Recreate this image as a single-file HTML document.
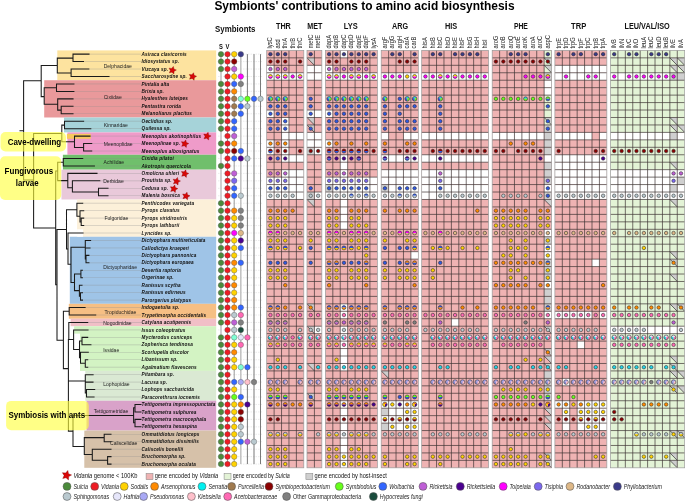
<!DOCTYPE html><html><head><meta charset="utf-8"><style>html,body{margin:0;padding:0;background:#fff;}svg{display:block;will-change:transform}text{font-family:"Liberation Sans",sans-serif}</style></head><body>
<svg width="685" height="501" viewBox="0 0 685 501">
<rect width="685" height="501" fill="#fff"/>
<text x="214.40" y="9.90" font-size="13.3" font-weight="bold" fill="#000" textLength="300.20" lengthAdjust="spacingAndGlyphs">Symbionts' contributions to amino acid biosynthesis</text>
<rect x="57.3" y="50.40" width="158.90" height="29.82" fill="#fde39f"/>
<rect x="44.2" y="80.22" width="172.00" height="37.27" fill="#e9999b"/>
<rect x="64.0" y="117.49" width="152.20" height="14.91" fill="#a6d3d9"/>
<rect x="67.4" y="132.39" width="148.80" height="22.36" fill="#ef9bc9"/>
<rect x="62.9" y="154.76" width="153.30" height="14.91" fill="#70bf6c"/>
<rect x="61.5" y="169.66" width="154.70" height="29.82" fill="#e9c9da"/>
<rect x="77.1" y="199.48" width="139.10" height="37.27" fill="#fcf0d9"/>
<rect x="69.8" y="236.75" width="146.40" height="67.09" fill="#9fc4e7"/>
<rect x="68.8" y="303.84" width="147.40" height="14.91" fill="#f6bf84"/>
<rect x="70.6" y="318.74" width="145.60" height="7.45" fill="#f1bfc7"/>
<rect x="80.0" y="326.20" width="136.20" height="44.72" fill="#d3f3c3"/>
<rect x="85.3" y="370.92" width="130.90" height="29.82" fill="#dae9d3"/>
<rect x="86.5" y="400.74" width="129.70" height="29.82" fill="#d9a2c9"/>
<rect x="84.3" y="430.55" width="131.90" height="37.27" fill="#d6c1a9"/>
<rect x="74.1" y="326.20" width="6" height="7.45" fill="#d3f3c3"/>
<rect x="77.1" y="229.30" width="6" height="7.45" fill="#fff"/>
<line x1="89" y1="54.13" x2="141" y2="54.13" stroke="#8a8a8a" stroke-width="0.45" opacity="0.7"/>
<line x1="218" y1="54.13" x2="263" y2="54.13" stroke="#cccccc" stroke-width="0.4" stroke-dasharray="1.5,1"/>
<line x1="83.5" y1="61.58" x2="141" y2="61.58" stroke="#8a8a8a" stroke-width="0.45" opacity="0.7"/>
<line x1="218" y1="61.58" x2="263" y2="61.58" stroke="#cccccc" stroke-width="0.4" stroke-dasharray="1.5,1"/>
<line x1="88.8" y1="69.03" x2="141" y2="69.03" stroke="#8a8a8a" stroke-width="0.45" opacity="0.7"/>
<line x1="218" y1="69.03" x2="263" y2="69.03" stroke="#cccccc" stroke-width="0.4" stroke-dasharray="1.5,1"/>
<line x1="109" y1="76.49" x2="141" y2="76.49" stroke="#8a8a8a" stroke-width="0.45" opacity="0.7"/>
<line x1="218" y1="76.49" x2="263" y2="76.49" stroke="#cccccc" stroke-width="0.4" stroke-dasharray="1.5,1"/>
<line x1="73.9" y1="83.94" x2="141" y2="83.94" stroke="#8a8a8a" stroke-width="0.45" opacity="0.7"/>
<line x1="218" y1="83.94" x2="263" y2="83.94" stroke="#cccccc" stroke-width="0.4" stroke-dasharray="1.5,1"/>
<line x1="73.9" y1="91.40" x2="141" y2="91.40" stroke="#8a8a8a" stroke-width="0.45" opacity="0.7"/>
<line x1="218" y1="91.40" x2="263" y2="91.40" stroke="#cccccc" stroke-width="0.4" stroke-dasharray="1.5,1"/>
<line x1="73" y1="98.85" x2="141" y2="98.85" stroke="#8a8a8a" stroke-width="0.45" opacity="0.7"/>
<line x1="218" y1="98.85" x2="263" y2="98.85" stroke="#cccccc" stroke-width="0.4" stroke-dasharray="1.5,1"/>
<line x1="73" y1="106.31" x2="141" y2="106.31" stroke="#8a8a8a" stroke-width="0.45" opacity="0.7"/>
<line x1="218" y1="106.31" x2="263" y2="106.31" stroke="#cccccc" stroke-width="0.4" stroke-dasharray="1.5,1"/>
<line x1="73" y1="113.76" x2="141" y2="113.76" stroke="#8a8a8a" stroke-width="0.45" opacity="0.7"/>
<line x1="218" y1="113.76" x2="263" y2="113.76" stroke="#cccccc" stroke-width="0.4" stroke-dasharray="1.5,1"/>
<line x1="83.6" y1="121.21" x2="141" y2="121.21" stroke="#8a8a8a" stroke-width="0.45" opacity="0.7"/>
<line x1="218" y1="121.21" x2="263" y2="121.21" stroke="#cccccc" stroke-width="0.4" stroke-dasharray="1.5,1"/>
<line x1="90.8" y1="128.67" x2="141" y2="128.67" stroke="#8a8a8a" stroke-width="0.45" opacity="0.7"/>
<line x1="218" y1="128.67" x2="263" y2="128.67" stroke="#cccccc" stroke-width="0.4" stroke-dasharray="1.5,1"/>
<line x1="90" y1="136.12" x2="141" y2="136.12" stroke="#8a8a8a" stroke-width="0.45" opacity="0.7"/>
<line x1="218" y1="136.12" x2="263" y2="136.12" stroke="#cccccc" stroke-width="0.4" stroke-dasharray="1.5,1"/>
<line x1="91.7" y1="143.57" x2="141" y2="143.57" stroke="#8a8a8a" stroke-width="0.45" opacity="0.7"/>
<line x1="218" y1="143.57" x2="263" y2="143.57" stroke="#cccccc" stroke-width="0.4" stroke-dasharray="1.5,1"/>
<line x1="91.7" y1="151.03" x2="141" y2="151.03" stroke="#8a8a8a" stroke-width="0.45" opacity="0.7"/>
<line x1="218" y1="151.03" x2="263" y2="151.03" stroke="#cccccc" stroke-width="0.4" stroke-dasharray="1.5,1"/>
<line x1="82.7" y1="158.48" x2="141" y2="158.48" stroke="#8a8a8a" stroke-width="0.45" opacity="0.7"/>
<line x1="218" y1="158.48" x2="263" y2="158.48" stroke="#cccccc" stroke-width="0.4" stroke-dasharray="1.5,1"/>
<line x1="94.4" y1="165.94" x2="141" y2="165.94" stroke="#8a8a8a" stroke-width="0.45" opacity="0.7"/>
<line x1="218" y1="165.94" x2="263" y2="165.94" stroke="#cccccc" stroke-width="0.4" stroke-dasharray="1.5,1"/>
<line x1="97" y1="173.39" x2="141" y2="173.39" stroke="#8a8a8a" stroke-width="0.45" opacity="0.7"/>
<line x1="218" y1="173.39" x2="263" y2="173.39" stroke="#cccccc" stroke-width="0.4" stroke-dasharray="1.5,1"/>
<line x1="99.8" y1="180.84" x2="141" y2="180.84" stroke="#8a8a8a" stroke-width="0.45" opacity="0.7"/>
<line x1="218" y1="180.84" x2="263" y2="180.84" stroke="#cccccc" stroke-width="0.4" stroke-dasharray="1.5,1"/>
<line x1="108" y1="188.30" x2="141" y2="188.30" stroke="#8a8a8a" stroke-width="0.45" opacity="0.7"/>
<line x1="218" y1="188.30" x2="263" y2="188.30" stroke="#cccccc" stroke-width="0.4" stroke-dasharray="1.5,1"/>
<line x1="108" y1="195.75" x2="141" y2="195.75" stroke="#8a8a8a" stroke-width="0.45" opacity="0.7"/>
<line x1="218" y1="195.75" x2="263" y2="195.75" stroke="#cccccc" stroke-width="0.4" stroke-dasharray="1.5,1"/>
<line x1="82.7" y1="203.21" x2="141" y2="203.21" stroke="#8a8a8a" stroke-width="0.45" opacity="0.7"/>
<line x1="218" y1="203.21" x2="263" y2="203.21" stroke="#cccccc" stroke-width="0.4" stroke-dasharray="1.5,1"/>
<line x1="83.7" y1="210.66" x2="141" y2="210.66" stroke="#8a8a8a" stroke-width="0.45" opacity="0.7"/>
<line x1="218" y1="210.66" x2="263" y2="210.66" stroke="#cccccc" stroke-width="0.4" stroke-dasharray="1.5,1"/>
<line x1="83.7" y1="218.12" x2="141" y2="218.12" stroke="#8a8a8a" stroke-width="0.45" opacity="0.7"/>
<line x1="218" y1="218.12" x2="263" y2="218.12" stroke="#cccccc" stroke-width="0.4" stroke-dasharray="1.5,1"/>
<line x1="83.7" y1="225.57" x2="141" y2="225.57" stroke="#8a8a8a" stroke-width="0.45" opacity="0.7"/>
<line x1="218" y1="225.57" x2="263" y2="225.57" stroke="#cccccc" stroke-width="0.4" stroke-dasharray="1.5,1"/>
<line x1="83" y1="233.02" x2="141" y2="233.02" stroke="#8a8a8a" stroke-width="0.45" opacity="0.7"/>
<line x1="218" y1="233.02" x2="263" y2="233.02" stroke="#cccccc" stroke-width="0.4" stroke-dasharray="1.5,1"/>
<line x1="90.6" y1="240.48" x2="141" y2="240.48" stroke="#8a8a8a" stroke-width="0.45" opacity="0.7"/>
<line x1="218" y1="240.48" x2="263" y2="240.48" stroke="#cccccc" stroke-width="0.4" stroke-dasharray="1.5,1"/>
<line x1="90" y1="247.93" x2="141" y2="247.93" stroke="#8a8a8a" stroke-width="0.45" opacity="0.7"/>
<line x1="218" y1="247.93" x2="263" y2="247.93" stroke="#cccccc" stroke-width="0.4" stroke-dasharray="1.5,1"/>
<line x1="88.9" y1="255.38" x2="141" y2="255.38" stroke="#8a8a8a" stroke-width="0.45" opacity="0.7"/>
<line x1="218" y1="255.38" x2="263" y2="255.38" stroke="#cccccc" stroke-width="0.4" stroke-dasharray="1.5,1"/>
<line x1="88.9" y1="262.84" x2="141" y2="262.84" stroke="#8a8a8a" stroke-width="0.45" opacity="0.7"/>
<line x1="218" y1="262.84" x2="263" y2="262.84" stroke="#cccccc" stroke-width="0.4" stroke-dasharray="1.5,1"/>
<line x1="82.4" y1="270.29" x2="141" y2="270.29" stroke="#8a8a8a" stroke-width="0.45" opacity="0.7"/>
<line x1="218" y1="270.29" x2="263" y2="270.29" stroke="#cccccc" stroke-width="0.4" stroke-dasharray="1.5,1"/>
<line x1="82.4" y1="277.75" x2="141" y2="277.75" stroke="#8a8a8a" stroke-width="0.45" opacity="0.7"/>
<line x1="218" y1="277.75" x2="263" y2="277.75" stroke="#cccccc" stroke-width="0.4" stroke-dasharray="1.5,1"/>
<line x1="82" y1="285.20" x2="141" y2="285.20" stroke="#8a8a8a" stroke-width="0.45" opacity="0.7"/>
<line x1="218" y1="285.20" x2="263" y2="285.20" stroke="#cccccc" stroke-width="0.4" stroke-dasharray="1.5,1"/>
<line x1="82.5" y1="292.65" x2="141" y2="292.65" stroke="#8a8a8a" stroke-width="0.45" opacity="0.7"/>
<line x1="218" y1="292.65" x2="263" y2="292.65" stroke="#cccccc" stroke-width="0.4" stroke-dasharray="1.5,1"/>
<line x1="82.5" y1="300.11" x2="141" y2="300.11" stroke="#8a8a8a" stroke-width="0.45" opacity="0.7"/>
<line x1="218" y1="300.11" x2="263" y2="300.11" stroke="#cccccc" stroke-width="0.4" stroke-dasharray="1.5,1"/>
<line x1="85.1" y1="307.56" x2="141" y2="307.56" stroke="#8a8a8a" stroke-width="0.45" opacity="0.7"/>
<line x1="218" y1="307.56" x2="263" y2="307.56" stroke="#cccccc" stroke-width="0.4" stroke-dasharray="1.5,1"/>
<line x1="95.7" y1="315.02" x2="141" y2="315.02" stroke="#8a8a8a" stroke-width="0.45" opacity="0.7"/>
<line x1="218" y1="315.02" x2="263" y2="315.02" stroke="#cccccc" stroke-width="0.4" stroke-dasharray="1.5,1"/>
<line x1="87.7" y1="322.47" x2="141" y2="322.47" stroke="#8a8a8a" stroke-width="0.45" opacity="0.7"/>
<line x1="218" y1="322.47" x2="263" y2="322.47" stroke="#cccccc" stroke-width="0.4" stroke-dasharray="1.5,1"/>
<line x1="88" y1="329.92" x2="141" y2="329.92" stroke="#8a8a8a" stroke-width="0.45" opacity="0.7"/>
<line x1="218" y1="329.92" x2="263" y2="329.92" stroke="#cccccc" stroke-width="0.4" stroke-dasharray="1.5,1"/>
<line x1="87.7" y1="337.38" x2="141" y2="337.38" stroke="#8a8a8a" stroke-width="0.45" opacity="0.7"/>
<line x1="218" y1="337.38" x2="263" y2="337.38" stroke="#cccccc" stroke-width="0.4" stroke-dasharray="1.5,1"/>
<line x1="90.9" y1="344.83" x2="141" y2="344.83" stroke="#8a8a8a" stroke-width="0.45" opacity="0.7"/>
<line x1="218" y1="344.83" x2="263" y2="344.83" stroke="#cccccc" stroke-width="0.4" stroke-dasharray="1.5,1"/>
<line x1="88.3" y1="352.29" x2="141" y2="352.29" stroke="#8a8a8a" stroke-width="0.45" opacity="0.7"/>
<line x1="218" y1="352.29" x2="263" y2="352.29" stroke="#cccccc" stroke-width="0.4" stroke-dasharray="1.5,1"/>
<line x1="87.7" y1="359.74" x2="141" y2="359.74" stroke="#8a8a8a" stroke-width="0.45" opacity="0.7"/>
<line x1="218" y1="359.74" x2="263" y2="359.74" stroke="#cccccc" stroke-width="0.4" stroke-dasharray="1.5,1"/>
<line x1="87.7" y1="367.19" x2="141" y2="367.19" stroke="#8a8a8a" stroke-width="0.45" opacity="0.7"/>
<line x1="218" y1="367.19" x2="263" y2="367.19" stroke="#cccccc" stroke-width="0.4" stroke-dasharray="1.5,1"/>
<line x1="93.1" y1="374.65" x2="141" y2="374.65" stroke="#8a8a8a" stroke-width="0.45" opacity="0.7"/>
<line x1="218" y1="374.65" x2="263" y2="374.65" stroke="#cccccc" stroke-width="0.4" stroke-dasharray="1.5,1"/>
<line x1="93" y1="382.10" x2="141" y2="382.10" stroke="#8a8a8a" stroke-width="0.45" opacity="0.7"/>
<line x1="218" y1="382.10" x2="263" y2="382.10" stroke="#cccccc" stroke-width="0.4" stroke-dasharray="1.5,1"/>
<line x1="94.7" y1="389.56" x2="141" y2="389.56" stroke="#8a8a8a" stroke-width="0.45" opacity="0.7"/>
<line x1="218" y1="389.56" x2="263" y2="389.56" stroke="#cccccc" stroke-width="0.4" stroke-dasharray="1.5,1"/>
<line x1="94" y1="397.01" x2="141" y2="397.01" stroke="#8a8a8a" stroke-width="0.45" opacity="0.7"/>
<line x1="218" y1="397.01" x2="263" y2="397.01" stroke="#cccccc" stroke-width="0.4" stroke-dasharray="1.5,1"/>
<line x1="140" y1="404.46" x2="141" y2="404.46" stroke="#8a8a8a" stroke-width="0.45" opacity="0.7"/>
<line x1="218" y1="404.46" x2="263" y2="404.46" stroke="#cccccc" stroke-width="0.4" stroke-dasharray="1.5,1"/>
<line x1="140" y1="411.92" x2="141" y2="411.92" stroke="#8a8a8a" stroke-width="0.45" opacity="0.7"/>
<line x1="218" y1="411.92" x2="263" y2="411.92" stroke="#cccccc" stroke-width="0.4" stroke-dasharray="1.5,1"/>
<line x1="140" y1="419.37" x2="141" y2="419.37" stroke="#8a8a8a" stroke-width="0.45" opacity="0.7"/>
<line x1="218" y1="419.37" x2="263" y2="419.37" stroke="#cccccc" stroke-width="0.4" stroke-dasharray="1.5,1"/>
<line x1="140" y1="426.83" x2="141" y2="426.83" stroke="#8a8a8a" stroke-width="0.45" opacity="0.7"/>
<line x1="218" y1="426.83" x2="263" y2="426.83" stroke="#cccccc" stroke-width="0.4" stroke-dasharray="1.5,1"/>
<line x1="110" y1="434.28" x2="141" y2="434.28" stroke="#8a8a8a" stroke-width="0.45" opacity="0.7"/>
<line x1="218" y1="434.28" x2="263" y2="434.28" stroke="#cccccc" stroke-width="0.4" stroke-dasharray="1.5,1"/>
<line x1="110" y1="441.73" x2="141" y2="441.73" stroke="#8a8a8a" stroke-width="0.45" opacity="0.7"/>
<line x1="218" y1="441.73" x2="263" y2="441.73" stroke="#cccccc" stroke-width="0.4" stroke-dasharray="1.5,1"/>
<line x1="110" y1="449.19" x2="141" y2="449.19" stroke="#8a8a8a" stroke-width="0.45" opacity="0.7"/>
<line x1="218" y1="449.19" x2="263" y2="449.19" stroke="#cccccc" stroke-width="0.4" stroke-dasharray="1.5,1"/>
<line x1="110" y1="456.64" x2="141" y2="456.64" stroke="#8a8a8a" stroke-width="0.45" opacity="0.7"/>
<line x1="218" y1="456.64" x2="263" y2="456.64" stroke="#cccccc" stroke-width="0.4" stroke-dasharray="1.5,1"/>
<line x1="110" y1="464.10" x2="141" y2="464.10" stroke="#8a8a8a" stroke-width="0.45" opacity="0.7"/>
<line x1="218" y1="464.10" x2="263" y2="464.10" stroke="#cccccc" stroke-width="0.4" stroke-dasharray="1.5,1"/>
<rect x="66.9" y="133.9" width="23.9" height="4.9" fill="#f7c85c"/>
<path d="M20.00 130.70H23.60 M23.60 80.70V180.00 M23.60 80.70H41.20 M41.20 65.40V96.60 M41.20 65.40H57.30 M57.30 58.10V73.00 M57.30 58.10H73.00 M73.00 54.13V61.58 M73.00 54.13H89.00 M73.00 61.58H83.50 M57.30 73.00H71.10 M71.10 69.03V76.49 M71.10 69.03H88.80 M71.10 76.49H109.00 M41.20 96.60H44.20 M44.20 87.70V104.20 M44.20 87.70H56.50 M56.50 83.94V91.40 M56.50 83.94H73.90 M56.50 91.40H73.90 M44.20 104.20H57.70 M57.70 98.85V110.10 M57.70 98.85H73.00 M57.70 110.10H61.20 M61.20 106.31V113.76 M61.20 106.31H73.00 M61.20 113.76H73.00 M23.60 180.00H33.60 M33.60 133.50V228.00 M33.60 133.50H61.80 M61.80 125.10V141.80 M61.80 125.10H64.50 M64.50 121.21V128.67 M64.50 121.21H83.60 M64.50 128.67H90.80 M61.80 141.80H74.50 M74.50 136.12V147.40 M74.50 136.12H90.00 M74.50 147.40H83.60 M83.60 143.57V151.03 M83.60 143.57H91.70 M83.60 151.03H91.70 M33.60 228.00H55.70 M55.70 171.00V284.70 M55.70 171.00H57.70 M57.70 162.30V180.60 M57.70 162.30H63.30 M63.30 158.48V165.94 M63.30 158.48H82.70 M63.30 165.94H94.40 M57.70 180.60H67.80 M67.80 173.39V187.80 M67.80 173.39H97.00 M67.80 187.80H72.40 M72.40 180.84V192.00 M72.40 180.84H99.80 M72.40 192.00H98.50 M98.50 188.30V195.75 M98.50 188.30H108.00 M98.50 195.75H108.00 M55.70 284.70H57.00 M57.00 229.40V340.20 M57.00 229.40H66.50 M66.50 209.80V249.00 M66.50 209.80H76.90 M76.90 203.21V216.20 M76.90 203.21H82.70 M76.90 216.20H80.00 M80.00 210.66V221.90 M80.00 210.66H83.70 M80.00 221.90H81.20 M81.20 218.12V225.57 M81.20 218.12H83.70 M81.20 225.57H83.70 M66.50 249.00H68.00 M68.00 233.02V264.30 M68.00 233.02H83.00 M68.00 264.30H71.00 M71.00 247.20V282.50 M71.00 247.20H85.30 M85.30 240.48V259.00 M85.30 240.48H90.60 M85.30 247.93H90.00 M85.30 259.00H86.00 M86.00 255.38V262.84 M86.00 255.38H88.90 M86.00 262.84H88.90 M71.00 282.50H74.50 M74.50 273.90V290.60 M74.50 273.90H80.90 M80.90 270.29V277.75 M80.90 270.29H82.40 M80.90 277.75H82.40 M74.50 290.60H79.40 M79.40 285.20V296.20 M79.40 285.20H82.00 M79.40 296.20H80.50 M80.50 292.65V300.11 M80.50 292.65H82.50 M80.50 300.11H82.50 M57.00 340.20H63.40 M63.40 311.20V368.60 M63.40 311.20H69.20 M69.20 307.56V315.02 M69.20 307.56H85.10 M69.20 315.02H95.70 M63.40 368.60H68.40 M68.80 322.47V339.50 M68.80 322.47H87.70 M68.40 339.50V431.10 M68.80 339.50H73.60 M73.60 329.92V349.40 M73.60 329.92H88.00 M73.60 349.40H79.50 M79.50 340.90V357.60 M79.50 340.90H82.00 M82.00 337.38V344.83 M82.00 337.38H87.70 M82.00 344.83H90.90 M79.50 357.60H80.50 M80.50 352.29V363.20 M80.50 352.29H88.30 M80.50 363.20H85.30 M85.30 359.74V367.19 M85.30 359.74H87.70 M85.30 367.19H87.70 M68.40 381.00H85.30 M85.30 374.65V392.90 M85.30 374.65H93.10 M85.30 382.10H93.00 M85.30 392.90H86.50 M86.50 389.56V397.01 M86.50 389.56H94.70 M86.50 397.01H94.00 M68.40 431.10H73.00 M73.00 415.50V446.40 M73.00 415.50H133.60 M133.60 407.80V422.70 M133.60 407.80H135.00 M135.00 404.46V411.92 M135.00 404.46H141.00 M135.00 411.92H141.00 M133.60 422.70H135.00 M135.00 419.37V426.83 M135.00 419.37H141.00 M135.00 426.83H141.00 M73.00 446.40H84.30 M84.30 437.60V454.40 M84.30 437.60H104.20 M104.20 434.28V441.73 M104.20 434.28H111.00 M104.20 441.73H111.00 M84.30 454.40H92.30 M92.30 449.19V460.30 M92.30 449.19H111.00 M92.30 460.30H107.60 M107.60 456.64V464.10 M107.60 456.64H111.00 M107.60 464.10H111.00" stroke="#1a1a1a" stroke-width="1.05" fill="none" stroke-linecap="square"/>
<text x="103.70" y="67.51" font-size="6.1" fill="#1e1e1e" textLength="28.15" lengthAdjust="spacingAndGlyphs">Delphacidae</text>
<text x="103.70" y="99.00" font-size="6.1" fill="#1e1e1e" textLength="18.01" lengthAdjust="spacingAndGlyphs">Cixiidae</text>
<text x="103.70" y="127.14" font-size="6.1" fill="#1e1e1e" textLength="24.21" lengthAdjust="spacingAndGlyphs">Kinnaridae</text>
<text x="103.70" y="145.77" font-size="6.1" fill="#1e1e1e" textLength="28.99" lengthAdjust="spacingAndGlyphs">Meenoplidae</text>
<text x="103.60" y="164.41" font-size="6.1" fill="#1e1e1e" textLength="20.55" lengthAdjust="spacingAndGlyphs">Achilidae</text>
<text x="103.20" y="183.20" font-size="6.1" fill="#1e1e1e" textLength="20.55" lengthAdjust="spacingAndGlyphs">Derbidae</text>
<text x="104.40" y="220.40" font-size="6.1" fill="#1e1e1e" textLength="23.92" lengthAdjust="spacingAndGlyphs">Fulgoridae</text>
<text x="103.20" y="268.50" font-size="6.1" fill="#1e1e1e" textLength="33.77" lengthAdjust="spacingAndGlyphs">Dictyopharidae</text>
<text x="104.40" y="313.70" font-size="6.1" fill="#1e1e1e" textLength="31.90" lengthAdjust="spacingAndGlyphs">Tropiduchidae</text>
<text x="103.20" y="324.70" font-size="6.1" fill="#1e1e1e" textLength="28.43" lengthAdjust="spacingAndGlyphs">Nogodinidae</text>
<text x="103.20" y="351.90" font-size="6.1" fill="#1e1e1e" textLength="16.04" lengthAdjust="spacingAndGlyphs">Issidae</text>
<text x="103.20" y="386.10" font-size="6.1" fill="#1e1e1e" textLength="26.47" lengthAdjust="spacingAndGlyphs">Lophopidae</text>
<text x="93.70" y="412.70" font-size="6.1" fill="#1e1e1e" textLength="34.62" lengthAdjust="spacingAndGlyphs">Tettigometridae</text>
<text x="110.00" y="445.30" font-size="6.1" fill="#1e1e1e" textLength="27.30" lengthAdjust="spacingAndGlyphs">Caliscelidae</text>
<text x="141.60" y="55.73" font-size="4.7" font-weight="bold" font-style="italic" fill="#111" textLength="45.13" lengthAdjust="spacing">Asiraca clavicornis</text>
<text x="141.60" y="63.18" font-size="4.7" font-weight="bold" font-style="italic" fill="#111" textLength="37.41" lengthAdjust="spacing">Idiosystatus sp.</text>
<text x="141.60" y="70.63" font-size="4.7" font-weight="bold" font-style="italic" fill="#111" textLength="26.51" lengthAdjust="spacing">Vizcaya sp.</text>
<text x="141.60" y="78.09" font-size="4.7" font-weight="bold" font-style="italic" fill="#111" textLength="45.12" lengthAdjust="spacing">Saccharosydne sp.</text>
<text x="141.60" y="85.54" font-size="4.7" font-weight="bold" font-style="italic" fill="#111" textLength="27.51" lengthAdjust="spacing">Pintalia alta</text>
<text x="141.60" y="93.00" font-size="4.7" font-weight="bold" font-style="italic" fill="#111" textLength="22.28" lengthAdjust="spacing">Brixia sp.</text>
<text x="141.60" y="100.45" font-size="4.7" font-weight="bold" font-style="italic" fill="#111" textLength="46.22" lengthAdjust="spacing">Hyalesthes luteipes</text>
<text x="141.60" y="107.91" font-size="4.7" font-weight="bold" font-style="italic" fill="#111" textLength="39.34" lengthAdjust="spacing">Pentastira rorida</text>
<text x="141.60" y="115.36" font-size="4.7" font-weight="bold" font-style="italic" fill="#111" textLength="50.34" lengthAdjust="spacing">Melanoliarus placitus</text>
<text x="141.60" y="122.81" font-size="4.7" font-weight="bold" font-style="italic" fill="#111" textLength="30.81" lengthAdjust="spacing">Oeclidius sp.</text>
<text x="141.60" y="130.27" font-size="4.7" font-weight="bold" font-style="italic" fill="#111" textLength="29.16" lengthAdjust="spacing">Quilessa sp.</text>
<text x="141.60" y="137.72" font-size="4.7" font-weight="bold" font-style="italic" fill="#111" textLength="59.40" lengthAdjust="spacing">Meenoplus akotinophilus</text>
<text x="141.60" y="145.17" font-size="4.7" font-weight="bold" font-style="italic" fill="#111" textLength="38.51" lengthAdjust="spacing">Meenoplinae sp.</text>
<text x="141.60" y="152.63" font-size="4.7" font-weight="bold" font-style="italic" fill="#111" textLength="57.76" lengthAdjust="spacing">Meenoplus albosignatus</text>
<text x="141.60" y="160.08" font-size="4.7" font-weight="bold" font-style="italic" fill="#111" textLength="32.18" lengthAdjust="spacing">Cixidia pilatoi</text>
<text x="141.60" y="167.54" font-size="4.7" font-weight="bold" font-style="italic" fill="#111" textLength="49.24" lengthAdjust="spacing">Akotropis quercicola</text>
<text x="141.60" y="174.99" font-size="4.7" font-weight="bold" font-style="italic" fill="#111" textLength="37.41" lengthAdjust="spacing">Omolicna uhleri</text>
<text x="141.60" y="182.44" font-size="4.7" font-weight="bold" font-style="italic" fill="#111" textLength="29.98" lengthAdjust="spacing">Proutista sp.</text>
<text x="141.60" y="189.90" font-size="4.7" font-weight="bold" font-style="italic" fill="#111" textLength="26.41" lengthAdjust="spacing">Cedusa sp.</text>
<text x="141.60" y="197.35" font-size="4.7" font-weight="bold" font-style="italic" fill="#111" textLength="38.24" lengthAdjust="spacing">Malenia bosnica</text>
<text x="141.60" y="204.81" font-size="4.7" font-weight="bold" font-style="italic" fill="#111" textLength="52.55" lengthAdjust="spacing">Penthicodes variegata</text>
<text x="141.60" y="212.26" font-size="4.7" font-weight="bold" font-style="italic" fill="#111" textLength="37.97" lengthAdjust="spacing">Pyrops clavatus</text>
<text x="141.60" y="219.72" font-size="4.7" font-weight="bold" font-style="italic" fill="#111" textLength="45.39" lengthAdjust="spacing">Pyrops viridirostris</text>
<text x="141.60" y="227.17" font-size="4.7" font-weight="bold" font-style="italic" fill="#111" textLength="37.68" lengthAdjust="spacing">Pyrops lathburii</text>
<text x="141.60" y="234.62" font-size="4.7" font-weight="bold" font-style="italic" fill="#111" textLength="29.99" lengthAdjust="spacing">Lyncides sp.</text>
<text x="141.60" y="242.08" font-size="4.7" font-weight="bold" font-style="italic" fill="#111" textLength="63.82" lengthAdjust="spacing">Dictyophara multireticulata</text>
<text x="141.60" y="249.53" font-size="4.7" font-weight="bold" font-style="italic" fill="#111" textLength="47.32" lengthAdjust="spacing">Callodictya krueperi</text>
<text x="141.60" y="256.99" font-size="4.7" font-weight="bold" font-style="italic" fill="#111" textLength="54.74" lengthAdjust="spacing">Dictyophara pannonica</text>
<text x="141.60" y="264.44" font-size="4.7" font-weight="bold" font-style="italic" fill="#111" textLength="51.99" lengthAdjust="spacing">Dictyophara europaea</text>
<text x="141.60" y="271.89" font-size="4.7" font-weight="bold" font-style="italic" fill="#111" textLength="39.34" lengthAdjust="spacing">Desertia raptoria</text>
<text x="141.60" y="279.35" font-size="4.7" font-weight="bold" font-style="italic" fill="#111" textLength="31.91" lengthAdjust="spacing">Orgerinae sp.</text>
<text x="141.60" y="286.80" font-size="4.7" font-weight="bold" font-style="italic" fill="#111" textLength="39.07" lengthAdjust="spacing">Ranissus scytha</text>
<text x="141.60" y="294.25" font-size="4.7" font-weight="bold" font-style="italic" fill="#111" textLength="44.02" lengthAdjust="spacing">Ranissus edirneus</text>
<text x="141.60" y="301.71" font-size="4.7" font-weight="bold" font-style="italic" fill="#111" textLength="49.51" lengthAdjust="spacing">Parorgerius platypus</text>
<text x="141.60" y="309.16" font-size="4.7" font-weight="bold" font-style="italic" fill="#111" textLength="37.68" lengthAdjust="spacing">Indogaetulia sp.</text>
<text x="141.60" y="316.62" font-size="4.7" font-weight="bold" font-style="italic" fill="#111" textLength="64.55" lengthAdjust="spacing">Trypetimorpha occidentalis</text>
<text x="141.60" y="324.07" font-size="4.7" font-weight="bold" font-style="italic" fill="#111" textLength="49.51" lengthAdjust="spacing">Catylana acutipennis</text>
<text x="141.60" y="331.52" font-size="4.7" font-weight="bold" font-style="italic" fill="#111" textLength="43.74" lengthAdjust="spacing">Issus coleoptratus</text>
<text x="141.60" y="338.98" font-size="4.7" font-weight="bold" font-style="italic" fill="#111" textLength="50.61" lengthAdjust="spacing">Mycterodus cuniceps</text>
<text x="141.60" y="346.43" font-size="4.7" font-weight="bold" font-style="italic" fill="#111" textLength="51.16" lengthAdjust="spacing">Zopherisca tendinosa</text>
<text x="141.60" y="353.89" font-size="4.7" font-weight="bold" font-style="italic" fill="#111" textLength="47.31" lengthAdjust="spacing">Scorlupella discolor</text>
<text x="141.60" y="361.34" font-size="4.7" font-weight="bold" font-style="italic" fill="#111" textLength="36.03" lengthAdjust="spacing">Libanissum sp.</text>
<text x="141.60" y="368.80" font-size="4.7" font-weight="bold" font-style="italic" fill="#111" textLength="55.02" lengthAdjust="spacing">Agalmatium flavescens</text>
<text x="141.60" y="376.25" font-size="4.7" font-weight="bold" font-style="italic" fill="#111" textLength="32.46" lengthAdjust="spacing">Pitambara sp.</text>
<text x="141.60" y="383.70" font-size="4.7" font-weight="bold" font-style="italic" fill="#111" textLength="25.59" lengthAdjust="spacing">Lacusa sp.</text>
<text x="141.60" y="391.16" font-size="4.7" font-weight="bold" font-style="italic" fill="#111" textLength="52.27" lengthAdjust="spacing">Lophops saccharicida</text>
<text x="141.60" y="398.61" font-size="4.7" font-weight="bold" font-style="italic" fill="#111" textLength="58.32" lengthAdjust="spacing">Paracorethrura iocnemis</text>
<text x="141.60" y="406.06" font-size="4.7" font-weight="bold" font-style="italic" fill="#111" textLength="73.81" lengthAdjust="spacing">Tettigometra impressopunctata</text>
<text x="141.60" y="413.52" font-size="4.7" font-weight="bold" font-style="italic" fill="#111" textLength="54.82" lengthAdjust="spacing">Tettigometra sulphurea</text>
<text x="141.60" y="420.97" font-size="4.7" font-weight="bold" font-style="italic" fill="#111" textLength="64.46" lengthAdjust="spacing">Tettigometra macrocephala</text>
<text x="141.60" y="428.43" font-size="4.7" font-weight="bold" font-style="italic" fill="#111" textLength="55.38" lengthAdjust="spacing">Tettigometra hexaspina</text>
<text x="141.60" y="435.88" font-size="4.7" font-weight="bold" font-style="italic" fill="#111" textLength="57.76" lengthAdjust="spacing">Ommatidiotus longiceps</text>
<text x="141.60" y="443.33" font-size="4.7" font-weight="bold" font-style="italic" fill="#111" textLength="57.21" lengthAdjust="spacing">Ommatidiotus dissimilis</text>
<text x="141.60" y="450.79" font-size="4.7" font-weight="bold" font-style="italic" fill="#111" textLength="41.54" lengthAdjust="spacing">Caliscelis bonellii</text>
<text x="141.60" y="458.24" font-size="4.7" font-weight="bold" font-style="italic" fill="#111" textLength="44.00" lengthAdjust="spacing">Bruchomorpha sp.</text>
<text x="141.60" y="465.70" font-size="4.7" font-weight="bold" font-style="italic" fill="#111" textLength="54.18" lengthAdjust="spacing">Bruchomorpha oculata</text>
<polygon points="173.37,66.42 173.93,69.01 176.39,70.02 174.10,71.36 173.90,74.01 171.92,72.24 169.34,72.87 170.40,70.44 169.01,68.18 171.65,68.45" fill="#d80808" stroke="#7a0000" stroke-width="0.35" stroke-linejoin="round"/>
<polygon points="193.57,72.72 194.13,75.31 196.59,76.32 194.30,77.66 194.10,80.31 192.12,78.54 189.54,79.17 190.60,76.74 189.21,74.48 191.85,74.75" fill="#d80808" stroke="#7a0000" stroke-width="0.35" stroke-linejoin="round"/>
<polygon points="208.07,132.32 208.63,134.91 211.09,135.92 208.80,137.26 208.60,139.91 206.62,138.14 204.04,138.77 205.10,136.34 203.71,134.08 206.35,134.35" fill="#d80808" stroke="#7a0000" stroke-width="0.35" stroke-linejoin="round"/>
<polygon points="185.77,139.92 186.33,142.51 188.79,143.52 186.50,144.86 186.30,147.51 184.32,145.74 181.74,146.37 182.80,143.94 181.41,141.68 184.05,141.95" fill="#d80808" stroke="#7a0000" stroke-width="0.35" stroke-linejoin="round"/>
<polygon points="185.77,169.82 186.33,172.41 188.79,173.42 186.50,174.76 186.30,177.41 184.32,175.64 181.74,176.27 182.80,173.84 181.41,171.58 184.05,171.85" fill="#d80808" stroke="#7a0000" stroke-width="0.35" stroke-linejoin="round"/>
<polygon points="177.47,177.42 178.03,180.01 180.49,181.02 178.20,182.36 178.00,185.01 176.02,183.24 173.44,183.87 174.50,181.44 173.11,179.18 175.75,179.45" fill="#d80808" stroke="#7a0000" stroke-width="0.35" stroke-linejoin="round"/>
<polygon points="174.77,185.02 175.33,187.61 177.79,188.62 175.50,189.96 175.30,192.61 173.32,190.84 170.74,191.47 171.80,189.04 170.41,186.78 173.05,187.05" fill="#d80808" stroke="#7a0000" stroke-width="0.35" stroke-linejoin="round"/>
<polygon points="186.97,192.22 187.53,194.81 189.99,195.82 187.70,197.16 187.50,199.81 185.52,198.04 182.94,198.67 184.00,196.24 182.61,193.98 185.25,194.25" fill="#d80808" stroke="#7a0000" stroke-width="0.35" stroke-linejoin="round"/>
<rect x="0.5" y="132" width="65.5" height="19.5" rx="5" fill="#ffff3c" opacity="0.62"/>
<rect x="0" y="156.2" width="61.2" height="43.7" rx="5" fill="#ffff3c" opacity="0.62"/>
<rect x="6.1" y="400.9" width="82.7" height="29.4" rx="5" fill="#ffff3c" opacity="0.62"/>
<text x="7.70" y="144.60" font-size="9.5" font-weight="bold" fill="#000" textLength="53.50" lengthAdjust="spacingAndGlyphs">Cave-dwelling</text>
<text x="4.60" y="174.00" font-size="9.5" font-weight="bold" fill="#000" textLength="48.50" lengthAdjust="spacingAndGlyphs">Fungivorous</text>
<text x="15.80" y="186.30" font-size="9.5" font-weight="bold" fill="#000" textLength="22.80" lengthAdjust="spacingAndGlyphs">larvae</text>
<text x="8.40" y="418.40" font-size="9.0" font-weight="bold" fill="#000" textLength="76.70" lengthAdjust="spacingAndGlyphs">Symbiosis with ants</text>
<line x1="221" y1="54.126999999999995" x2="221" y2="464.097" stroke="#c4c4c4" stroke-width="1.6"/>
<line x1="227.5" y1="54.126999999999995" x2="227.5" y2="464.097" stroke="#555" stroke-width="0.6"/>
<line x1="234.2" y1="54.126999999999995" x2="234.2" y2="464.097" stroke="#555" stroke-width="0.6"/>
<line x1="240.8" y1="54.126999999999995" x2="240.8" y2="464.097" stroke="#c4c4c4" stroke-width="1.6"/>
<line x1="247.4" y1="54.126999999999995" x2="247.4" y2="464.097" stroke="#6a6a6a" stroke-width="0.9"/>
<line x1="254" y1="54.126999999999995" x2="254" y2="464.097" stroke="#6a6a6a" stroke-width="0.9"/>
<line x1="260.5" y1="54.126999999999995" x2="260.5" y2="464.097" stroke="#6a6a6a" stroke-width="0.9"/>
<circle cx="221" cy="54.13" r="2.75" fill="#4b8b3b" stroke="#555" stroke-width="0.4"/>
<circle cx="227.5" cy="54.13" r="2.75" fill="#ee1c24" stroke="#555" stroke-width="0.4"/>
<circle cx="234.2" cy="54.13" r="2.75" fill="#ffd200" stroke="#555" stroke-width="0.4"/>
<circle cx="240.8" cy="54.13" r="2.75" fill="#3b3b8a" stroke="#555" stroke-width="0.4"/>
<circle cx="221" cy="61.58" r="2.75" fill="#4b8b3b" stroke="#555" stroke-width="0.4"/>
<circle cx="227.5" cy="61.58" r="2.75" fill="#ee1c24" stroke="#555" stroke-width="0.4"/>
<circle cx="234.2" cy="61.58" r="2.75" fill="#8b0000" stroke="#555" stroke-width="0.4"/>
<circle cx="221" cy="69.03" r="2.75" fill="#4b8b3b" stroke="#555" stroke-width="0.4"/>
<circle cx="227.5" cy="69.03" r="2.75" fill="#ee1c24" stroke="#555" stroke-width="0.4"/>
<circle cx="234.2" cy="69.03" r="2.75" fill="#bf5fd6" stroke="#555" stroke-width="0.4"/>
<circle cx="227.5" cy="76.49" r="2.75" fill="#ee1c24" stroke="#555" stroke-width="0.4"/>
<circle cx="234.2" cy="76.49" r="2.75" fill="#ffd200" stroke="#555" stroke-width="0.4"/>
<circle cx="240.8" cy="76.49" r="2.75" fill="#ff00ff" stroke="#555" stroke-width="0.4"/>
<circle cx="221" cy="83.94" r="2.75" fill="#4b8b3b" stroke="#555" stroke-width="0.4"/>
<circle cx="227.5" cy="83.94" r="2.75" fill="#ee1c24" stroke="#555" stroke-width="0.4"/>
<circle cx="234.2" cy="83.94" r="2.75" fill="#3366ff" stroke="#555" stroke-width="0.4"/>
<circle cx="240.8" cy="83.94" r="2.75" fill="#808080" stroke="#555" stroke-width="0.4"/>
<circle cx="221" cy="91.40" r="2.75" fill="#4b8b3b" stroke="#555" stroke-width="0.4"/>
<circle cx="227.5" cy="91.40" r="2.75" fill="#ee1c24" stroke="#555" stroke-width="0.4"/>
<circle cx="234.2" cy="91.40" r="2.75" fill="#ff8a00" stroke="#555" stroke-width="0.4"/>
<circle cx="221" cy="98.85" r="2.75" fill="#4b8b3b" stroke="#555" stroke-width="0.4"/>
<circle cx="227.5" cy="98.85" r="2.75" fill="#ee1c24" stroke="#555" stroke-width="0.4"/>
<circle cx="234.2" cy="98.85" r="2.75" fill="#a07a4e" stroke="#555" stroke-width="0.4"/>
<circle cx="240.8" cy="98.85" r="2.75" fill="#7fffd4" stroke="#555" stroke-width="0.4"/>
<circle cx="247.4" cy="98.85" r="2.75" fill="#66ff1a" stroke="#555" stroke-width="0.4"/>
<circle cx="254" cy="98.85" r="2.75" fill="#3366ff" stroke="#555" stroke-width="0.4"/>
<circle cx="260.5" cy="98.85" r="2.75" fill="#b9c9cf" stroke="#555" stroke-width="0.4"/>
<circle cx="221" cy="106.31" r="2.75" fill="#4b8b3b" stroke="#555" stroke-width="0.4"/>
<circle cx="227.5" cy="106.31" r="2.75" fill="#ee1c24" stroke="#555" stroke-width="0.4"/>
<circle cx="234.2" cy="106.31" r="2.75" fill="#a07a4e" stroke="#555" stroke-width="0.4"/>
<circle cx="240.8" cy="106.31" r="2.75" fill="#3366ff" stroke="#555" stroke-width="0.4"/>
<circle cx="247.4" cy="106.31" r="2.75" fill="#b9c9cf" stroke="#555" stroke-width="0.4"/>
<circle cx="221" cy="113.76" r="2.75" fill="#4b8b3b" stroke="#555" stroke-width="0.4"/>
<circle cx="227.5" cy="113.76" r="2.75" fill="#ee1c24" stroke="#555" stroke-width="0.4"/>
<circle cx="234.2" cy="113.76" r="2.75" fill="#a07a4e" stroke="#555" stroke-width="0.4"/>
<circle cx="240.8" cy="113.76" r="2.75" fill="#3366ff" stroke="#555" stroke-width="0.4"/>
<circle cx="221" cy="121.21" r="2.75" fill="#4b8b3b" stroke="#555" stroke-width="0.4"/>
<circle cx="227.5" cy="121.21" r="2.75" fill="#ee1c24" stroke="#555" stroke-width="0.4"/>
<circle cx="234.2" cy="121.21" r="2.75" fill="#3366ff" stroke="#555" stroke-width="0.4"/>
<circle cx="221" cy="128.67" r="2.75" fill="#4b8b3b" stroke="#555" stroke-width="0.4"/>
<circle cx="227.5" cy="128.67" r="2.75" fill="#ee1c24" stroke="#555" stroke-width="0.4"/>
<circle cx="234.2" cy="128.67" r="2.75" fill="#3366ff" stroke="#555" stroke-width="0.4"/>
<circle cx="227.5" cy="136.12" r="2.75" fill="#ee1c24" stroke="#555" stroke-width="0.4"/>
<circle cx="234.2" cy="136.12" r="2.75" fill="#bf5fd6" stroke="#555" stroke-width="0.4"/>
<circle cx="221" cy="143.57" r="2.75" fill="#4b8b3b" stroke="#555" stroke-width="0.4"/>
<circle cx="227.5" cy="143.57" r="2.75" fill="#ee1c24" stroke="#555" stroke-width="0.4"/>
<circle cx="234.2" cy="143.57" r="2.75" fill="#ff8a00" stroke="#555" stroke-width="0.4"/>
<circle cx="221" cy="151.03" r="2.75" fill="#4b8b3b" stroke="#555" stroke-width="0.4"/>
<circle cx="227.5" cy="151.03" r="2.75" fill="#ee1c24" stroke="#555" stroke-width="0.4"/>
<circle cx="234.2" cy="151.03" r="2.75" fill="#8b0000" stroke="#555" stroke-width="0.4"/>
<circle cx="240.8" cy="151.03" r="2.75" fill="#3366ff" stroke="#555" stroke-width="0.4"/>
<circle cx="227.5" cy="158.48" r="2.75" fill="#ee1c24" stroke="#555" stroke-width="0.4"/>
<circle cx="234.2" cy="158.48" r="2.75" fill="#3366ff" stroke="#555" stroke-width="0.4"/>
<circle cx="240.8" cy="158.48" r="2.75" fill="#4b0090" stroke="#555" stroke-width="0.4"/>
<circle cx="247.4" cy="158.48" r="2.75" fill="#b9c9cf" stroke="#555" stroke-width="0.4"/>
<circle cx="221" cy="165.94" r="2.75" fill="#4b8b3b" stroke="#555" stroke-width="0.4"/>
<circle cx="227.5" cy="165.94" r="2.75" fill="#ee1c24" stroke="#555" stroke-width="0.4"/>
<circle cx="227.5" cy="173.39" r="2.75" fill="#ee1c24" stroke="#555" stroke-width="0.4"/>
<circle cx="234.2" cy="173.39" r="2.75" fill="#bf5fd6" stroke="#555" stroke-width="0.4"/>
<circle cx="227.5" cy="180.84" r="2.75" fill="#ee1c24" stroke="#555" stroke-width="0.4"/>
<circle cx="234.2" cy="180.84" r="2.75" fill="#7b68ee" stroke="#555" stroke-width="0.4"/>
<circle cx="227.5" cy="188.30" r="2.75" fill="#ee1c24" stroke="#555" stroke-width="0.4"/>
<circle cx="234.2" cy="188.30" r="2.75" fill="#3366ff" stroke="#555" stroke-width="0.4"/>
<circle cx="227.5" cy="195.75" r="2.75" fill="#ee1c24" stroke="#555" stroke-width="0.4"/>
<circle cx="234.2" cy="195.75" r="2.75" fill="#3366ff" stroke="#555" stroke-width="0.4"/>
<circle cx="240.8" cy="195.75" r="2.75" fill="#b9c9cf" stroke="#555" stroke-width="0.4"/>
<circle cx="221" cy="203.21" r="2.75" fill="#4b8b3b" stroke="#555" stroke-width="0.4"/>
<circle cx="227.5" cy="203.21" r="2.75" fill="#ee1c24" stroke="#555" stroke-width="0.4"/>
<circle cx="221" cy="210.66" r="2.75" fill="#4b8b3b" stroke="#555" stroke-width="0.4"/>
<circle cx="227.5" cy="210.66" r="2.75" fill="#ee1c24" stroke="#555" stroke-width="0.4"/>
<circle cx="234.2" cy="210.66" r="2.75" fill="#ff8a00" stroke="#555" stroke-width="0.4"/>
<circle cx="240.8" cy="210.66" r="2.75" fill="#808080" stroke="#555" stroke-width="0.4"/>
<circle cx="221" cy="218.12" r="2.75" fill="#4b8b3b" stroke="#555" stroke-width="0.4"/>
<circle cx="227.5" cy="218.12" r="2.75" fill="#ee1c24" stroke="#555" stroke-width="0.4"/>
<circle cx="234.2" cy="218.12" r="2.75" fill="#ffd200" stroke="#555" stroke-width="0.4"/>
<circle cx="240.8" cy="218.12" r="2.75" fill="#808080" stroke="#555" stroke-width="0.4"/>
<circle cx="221" cy="225.57" r="2.75" fill="#4b8b3b" stroke="#555" stroke-width="0.4"/>
<circle cx="227.5" cy="225.57" r="2.75" fill="#ee1c24" stroke="#555" stroke-width="0.4"/>
<circle cx="234.2" cy="225.57" r="2.75" fill="#ffd200" stroke="#555" stroke-width="0.4"/>
<circle cx="240.8" cy="225.57" r="2.75" fill="#808080" stroke="#555" stroke-width="0.4"/>
<circle cx="221" cy="233.02" r="2.75" fill="#4b8b3b" stroke="#555" stroke-width="0.4"/>
<circle cx="227.5" cy="233.02" r="2.75" fill="#ee1c24" stroke="#555" stroke-width="0.4"/>
<circle cx="234.2" cy="233.02" r="2.75" fill="#ff00ff" stroke="#555" stroke-width="0.4"/>
<circle cx="240.8" cy="233.02" r="2.75" fill="#deb887" stroke="#555" stroke-width="0.4"/>
<circle cx="221" cy="240.48" r="2.75" fill="#4b8b3b" stroke="#555" stroke-width="0.4"/>
<circle cx="227.5" cy="240.48" r="2.75" fill="#ee1c24" stroke="#555" stroke-width="0.4"/>
<circle cx="234.2" cy="240.48" r="2.75" fill="#ffd200" stroke="#555" stroke-width="0.4"/>
<circle cx="240.8" cy="240.48" r="2.75" fill="#4b0090" stroke="#555" stroke-width="0.4"/>
<circle cx="221" cy="247.93" r="2.75" fill="#4b8b3b" stroke="#555" stroke-width="0.4"/>
<circle cx="227.5" cy="247.93" r="2.75" fill="#ee1c24" stroke="#555" stroke-width="0.4"/>
<circle cx="234.2" cy="247.93" r="2.75" fill="#ffd200" stroke="#555" stroke-width="0.4"/>
<circle cx="240.8" cy="247.93" r="2.75" fill="#3366ff" stroke="#555" stroke-width="0.4"/>
<circle cx="221" cy="255.38" r="2.75" fill="#4b8b3b" stroke="#555" stroke-width="0.4"/>
<circle cx="227.5" cy="255.38" r="2.75" fill="#ee1c24" stroke="#555" stroke-width="0.4"/>
<circle cx="234.2" cy="255.38" r="2.75" fill="#ffd200" stroke="#555" stroke-width="0.4"/>
<circle cx="221" cy="262.84" r="2.75" fill="#4b8b3b" stroke="#555" stroke-width="0.4"/>
<circle cx="227.5" cy="262.84" r="2.75" fill="#ee1c24" stroke="#555" stroke-width="0.4"/>
<circle cx="234.2" cy="262.84" r="2.75" fill="#ff8a00" stroke="#555" stroke-width="0.4"/>
<circle cx="240.8" cy="262.84" r="2.75" fill="#3366ff" stroke="#555" stroke-width="0.4"/>
<circle cx="221" cy="270.29" r="2.75" fill="#4b8b3b" stroke="#555" stroke-width="0.4"/>
<circle cx="227.5" cy="270.29" r="2.75" fill="#ee1c24" stroke="#555" stroke-width="0.4"/>
<circle cx="234.2" cy="270.29" r="2.75" fill="#ffd200" stroke="#555" stroke-width="0.4"/>
<circle cx="221" cy="277.75" r="2.75" fill="#4b8b3b" stroke="#555" stroke-width="0.4"/>
<circle cx="227.5" cy="277.75" r="2.75" fill="#ee1c24" stroke="#555" stroke-width="0.4"/>
<circle cx="234.2" cy="277.75" r="2.75" fill="#ffd200" stroke="#555" stroke-width="0.4"/>
<circle cx="221" cy="285.20" r="2.75" fill="#4b8b3b" stroke="#555" stroke-width="0.4"/>
<circle cx="227.5" cy="285.20" r="2.75" fill="#ee1c24" stroke="#555" stroke-width="0.4"/>
<circle cx="234.2" cy="285.20" r="2.75" fill="#ff8a00" stroke="#555" stroke-width="0.4"/>
<circle cx="221" cy="292.65" r="2.75" fill="#4b8b3b" stroke="#555" stroke-width="0.4"/>
<circle cx="227.5" cy="292.65" r="2.75" fill="#ee1c24" stroke="#555" stroke-width="0.4"/>
<circle cx="234.2" cy="292.65" r="2.75" fill="#ffd200" stroke="#555" stroke-width="0.4"/>
<circle cx="221" cy="300.11" r="2.75" fill="#4b8b3b" stroke="#555" stroke-width="0.4"/>
<circle cx="227.5" cy="300.11" r="2.75" fill="#ee1c24" stroke="#555" stroke-width="0.4"/>
<circle cx="234.2" cy="300.11" r="2.75" fill="#ff8a00" stroke="#555" stroke-width="0.4"/>
<circle cx="221" cy="307.56" r="2.75" fill="#4b8b3b" stroke="#555" stroke-width="0.4"/>
<circle cx="227.5" cy="307.56" r="2.75" fill="#ee1c24" stroke="#555" stroke-width="0.4"/>
<circle cx="234.2" cy="307.56" r="2.75" fill="#ff8a00" stroke="#555" stroke-width="0.4"/>
<circle cx="240.8" cy="307.56" r="2.75" fill="#3366ff" stroke="#555" stroke-width="0.4"/>
<circle cx="221" cy="315.02" r="2.75" fill="#4b8b3b" stroke="#555" stroke-width="0.4"/>
<circle cx="227.5" cy="315.02" r="2.75" fill="#ee1c24" stroke="#555" stroke-width="0.4"/>
<circle cx="234.2" cy="315.02" r="2.75" fill="#b9c9cf" stroke="#555" stroke-width="0.4"/>
<circle cx="240.8" cy="315.02" r="2.75" fill="#ff69b4" stroke="#555" stroke-width="0.4"/>
<circle cx="221" cy="322.47" r="2.75" fill="#4b8b3b" stroke="#555" stroke-width="0.4"/>
<circle cx="227.5" cy="322.47" r="2.75" fill="#ee1c24" stroke="#555" stroke-width="0.4"/>
<circle cx="234.2" cy="322.47" r="2.75" fill="#bf5fd6" stroke="#555" stroke-width="0.4"/>
<circle cx="240.8" cy="322.47" r="2.75" fill="#808080" stroke="#555" stroke-width="0.4"/>
<circle cx="227.5" cy="329.92" r="2.75" fill="#ee1c24" stroke="#555" stroke-width="0.4"/>
<circle cx="234.2" cy="329.92" r="2.75" fill="#b9c9cf" stroke="#555" stroke-width="0.4"/>
<circle cx="240.8" cy="329.92" r="2.75" fill="#1a4d3d" stroke="#555" stroke-width="0.4"/>
<circle cx="221" cy="337.38" r="2.75" fill="#4b8b3b" stroke="#555" stroke-width="0.4"/>
<circle cx="227.5" cy="337.38" r="2.75" fill="#ee1c24" stroke="#555" stroke-width="0.4"/>
<circle cx="234.2" cy="337.38" r="2.75" fill="#7fffd4" stroke="#555" stroke-width="0.4"/>
<circle cx="240.8" cy="337.38" r="2.75" fill="#e6e6fa" stroke="#555" stroke-width="0.4"/>
<circle cx="247.4" cy="337.38" r="2.75" fill="#ff69b4" stroke="#555" stroke-width="0.4"/>
<circle cx="221" cy="344.83" r="2.75" fill="#4b8b3b" stroke="#555" stroke-width="0.4"/>
<circle cx="227.5" cy="344.83" r="2.75" fill="#ee1c24" stroke="#555" stroke-width="0.4"/>
<circle cx="234.2" cy="344.83" r="2.75" fill="#ffd200" stroke="#555" stroke-width="0.4"/>
<circle cx="240.8" cy="344.83" r="2.75" fill="#ff69b4" stroke="#555" stroke-width="0.4"/>
<circle cx="221" cy="352.29" r="2.75" fill="#4b8b3b" stroke="#555" stroke-width="0.4"/>
<circle cx="227.5" cy="352.29" r="2.75" fill="#ee1c24" stroke="#555" stroke-width="0.4"/>
<circle cx="234.2" cy="352.29" r="2.75" fill="#ff8a00" stroke="#555" stroke-width="0.4"/>
<circle cx="221" cy="359.74" r="2.75" fill="#4b8b3b" stroke="#555" stroke-width="0.4"/>
<circle cx="227.5" cy="359.74" r="2.75" fill="#ee1c24" stroke="#555" stroke-width="0.4"/>
<circle cx="234.2" cy="359.74" r="2.75" fill="#ffd200" stroke="#555" stroke-width="0.4"/>
<circle cx="221" cy="367.19" r="2.75" fill="#4b8b3b" stroke="#555" stroke-width="0.4"/>
<circle cx="227.5" cy="367.19" r="2.75" fill="#ee1c24" stroke="#555" stroke-width="0.4"/>
<circle cx="234.2" cy="367.19" r="2.75" fill="#ffd200" stroke="#555" stroke-width="0.4"/>
<circle cx="240.8" cy="367.19" r="2.75" fill="#7fffd4" stroke="#555" stroke-width="0.4"/>
<circle cx="247.4" cy="367.19" r="2.75" fill="#3366ff" stroke="#555" stroke-width="0.4"/>
<circle cx="221" cy="374.65" r="2.75" fill="#4b8b3b" stroke="#555" stroke-width="0.4"/>
<circle cx="227.5" cy="374.65" r="2.75" fill="#ee1c24" stroke="#555" stroke-width="0.4"/>
<circle cx="221" cy="382.10" r="2.75" fill="#4b8b3b" stroke="#555" stroke-width="0.4"/>
<circle cx="227.5" cy="382.10" r="2.75" fill="#ee1c24" stroke="#555" stroke-width="0.4"/>
<circle cx="234.2" cy="382.10" r="2.75" fill="#3366ff" stroke="#555" stroke-width="0.4"/>
<circle cx="240.8" cy="382.10" r="2.75" fill="#a9a9f5" stroke="#555" stroke-width="0.4"/>
<circle cx="247.4" cy="382.10" r="2.75" fill="#ffc0cb" stroke="#555" stroke-width="0.4"/>
<circle cx="254" cy="382.10" r="2.75" fill="#808080" stroke="#555" stroke-width="0.4"/>
<circle cx="221" cy="389.56" r="2.75" fill="#4b8b3b" stroke="#555" stroke-width="0.4"/>
<circle cx="227.5" cy="389.56" r="2.75" fill="#ee1c24" stroke="#555" stroke-width="0.4"/>
<circle cx="234.2" cy="389.56" r="2.75" fill="#ffd200" stroke="#555" stroke-width="0.4"/>
<circle cx="221" cy="397.01" r="2.75" fill="#4b8b3b" stroke="#555" stroke-width="0.4"/>
<circle cx="227.5" cy="397.01" r="2.75" fill="#ee1c24" stroke="#555" stroke-width="0.4"/>
<circle cx="234.2" cy="397.01" r="2.75" fill="#66ff1a" stroke="#555" stroke-width="0.4"/>
<circle cx="240.8" cy="397.01" r="2.75" fill="#3366ff" stroke="#555" stroke-width="0.4"/>
<circle cx="221" cy="404.46" r="2.75" fill="#4b8b3b" stroke="#555" stroke-width="0.4"/>
<circle cx="227.5" cy="404.46" r="2.75" fill="#ee1c24" stroke="#555" stroke-width="0.4"/>
<circle cx="234.2" cy="404.46" r="2.75" fill="#ffd200" stroke="#555" stroke-width="0.4"/>
<circle cx="240.8" cy="404.46" r="2.75" fill="#ff8a00" stroke="#555" stroke-width="0.4"/>
<circle cx="247.4" cy="404.46" r="2.75" fill="#4b0090" stroke="#555" stroke-width="0.4"/>
<circle cx="221" cy="411.92" r="2.75" fill="#4b8b3b" stroke="#555" stroke-width="0.4"/>
<circle cx="227.5" cy="411.92" r="2.75" fill="#ee1c24" stroke="#555" stroke-width="0.4"/>
<circle cx="234.2" cy="411.92" r="2.75" fill="#ffd200" stroke="#555" stroke-width="0.4"/>
<circle cx="240.8" cy="411.92" r="2.75" fill="#8b0000" stroke="#555" stroke-width="0.4"/>
<circle cx="221" cy="419.37" r="2.75" fill="#4b8b3b" stroke="#555" stroke-width="0.4"/>
<circle cx="227.5" cy="419.37" r="2.75" fill="#ee1c24" stroke="#555" stroke-width="0.4"/>
<circle cx="234.2" cy="419.37" r="2.75" fill="#ffd200" stroke="#555" stroke-width="0.4"/>
<circle cx="240.8" cy="419.37" r="2.75" fill="#8b0000" stroke="#555" stroke-width="0.4"/>
<circle cx="221" cy="426.83" r="2.75" fill="#4b8b3b" stroke="#555" stroke-width="0.4"/>
<circle cx="227.5" cy="426.83" r="2.75" fill="#ee1c24" stroke="#555" stroke-width="0.4"/>
<circle cx="234.2" cy="426.83" r="2.75" fill="#ffd200" stroke="#555" stroke-width="0.4"/>
<circle cx="240.8" cy="426.83" r="2.75" fill="#b9c9cf" stroke="#555" stroke-width="0.4"/>
<circle cx="221" cy="434.28" r="2.75" fill="#4b8b3b" stroke="#555" stroke-width="0.4"/>
<circle cx="227.5" cy="434.28" r="2.75" fill="#ee1c24" stroke="#555" stroke-width="0.4"/>
<circle cx="234.2" cy="434.28" r="2.75" fill="#ffd200" stroke="#555" stroke-width="0.4"/>
<circle cx="240.8" cy="434.28" r="2.75" fill="#b9c9cf" stroke="#555" stroke-width="0.4"/>
<circle cx="221" cy="441.73" r="2.75" fill="#4b8b3b" stroke="#555" stroke-width="0.4"/>
<circle cx="227.5" cy="441.73" r="2.75" fill="#ee1c24" stroke="#555" stroke-width="0.4"/>
<circle cx="234.2" cy="441.73" r="2.75" fill="#ffd200" stroke="#555" stroke-width="0.4"/>
<circle cx="240.8" cy="441.73" r="2.75" fill="#3366ff" stroke="#555" stroke-width="0.4"/>
<circle cx="247.4" cy="441.73" r="2.75" fill="#bf5fd6" stroke="#555" stroke-width="0.4"/>
<circle cx="254" cy="441.73" r="2.75" fill="#b9c9cf" stroke="#555" stroke-width="0.4"/>
<circle cx="221" cy="449.19" r="2.75" fill="#4b8b3b" stroke="#555" stroke-width="0.4"/>
<circle cx="227.5" cy="449.19" r="2.75" fill="#ee1c24" stroke="#555" stroke-width="0.4"/>
<circle cx="234.2" cy="449.19" r="2.75" fill="#ffd200" stroke="#555" stroke-width="0.4"/>
<circle cx="221" cy="456.64" r="2.75" fill="#4b8b3b" stroke="#555" stroke-width="0.4"/>
<circle cx="227.5" cy="456.64" r="2.75" fill="#ee1c24" stroke="#555" stroke-width="0.4"/>
<circle cx="234.2" cy="456.64" r="2.75" fill="#ffd200" stroke="#555" stroke-width="0.4"/>
<circle cx="221" cy="464.10" r="2.75" fill="#4b8b3b" stroke="#555" stroke-width="0.4"/>
<circle cx="227.5" cy="464.10" r="2.75" fill="#ee1c24" stroke="#555" stroke-width="0.4"/>
<circle cx="234.2" cy="464.10" r="2.75" fill="#ffd200" stroke="#555" stroke-width="0.4"/>
<text x="215.10" y="32.00" font-size="8.4" font-weight="bold" fill="#111" textLength="40.40" lengthAdjust="spacingAndGlyphs">Symbionts</text>
<text x="219.06" y="49.30" font-size="7.0" font-weight="bold" fill="#111" textLength="3.88" lengthAdjust="spacingAndGlyphs">S</text>
<text x="225.56" y="49.30" font-size="7.0" font-weight="bold" fill="#111" textLength="3.88" lengthAdjust="spacingAndGlyphs">V</text>
<text x="275.96" y="28.70" font-size="8.8" font-weight="bold" fill="#111" textLength="14.90" lengthAdjust="spacingAndGlyphs">THR</text>
<text transform="translate(272.31,48.5) rotate(-90)" font-size="6.8" fill="#222" textLength="11.24" lengthAdjust="spacingAndGlyphs">lysC</text>
<text transform="translate(279.73,48.5) rotate(-90)" font-size="6.8" fill="#222" textLength="9.32" lengthAdjust="spacingAndGlyphs">asd</text>
<text transform="translate(287.15,48.5) rotate(-90)" font-size="6.8" fill="#222" textLength="10.60" lengthAdjust="spacingAndGlyphs">thrA</text>
<text transform="translate(294.57,48.5) rotate(-90)" font-size="6.8" fill="#222" textLength="10.60" lengthAdjust="spacingAndGlyphs">thrB</text>
<text transform="translate(301.99,48.5) rotate(-90)" font-size="6.8" fill="#222" textLength="10.92" lengthAdjust="spacingAndGlyphs">thrC</text>
<text x="307.20" y="28.70" font-size="8.8" font-weight="bold" fill="#111" textLength="15.10" lengthAdjust="spacingAndGlyphs">MET</text>
<text transform="translate(312.61,48.5) rotate(-90)" font-size="6.8" fill="#222" textLength="13.81" lengthAdjust="spacingAndGlyphs">metC</text>
<text transform="translate(320.03,48.5) rotate(-90)" font-size="6.8" fill="#222" textLength="13.49" lengthAdjust="spacingAndGlyphs">metE</text>
<text x="343.80" y="28.70" font-size="8.8" font-weight="bold" fill="#111" textLength="13.90" lengthAdjust="spacingAndGlyphs">LYS</text>
<text transform="translate(331.01,48.5) rotate(-90)" font-size="6.8" fill="#222" textLength="13.50" lengthAdjust="spacingAndGlyphs">dapA</text>
<text transform="translate(338.43,48.5) rotate(-90)" font-size="6.8" fill="#222" textLength="13.50" lengthAdjust="spacingAndGlyphs">dapB</text>
<text transform="translate(345.85,48.5) rotate(-90)" font-size="6.8" fill="#222" textLength="13.82" lengthAdjust="spacingAndGlyphs">dapC</text>
<text transform="translate(353.27,48.5) rotate(-90)" font-size="6.8" fill="#222" textLength="13.82" lengthAdjust="spacingAndGlyphs">dapD</text>
<text transform="translate(360.69,48.5) rotate(-90)" font-size="6.8" fill="#222" textLength="13.50" lengthAdjust="spacingAndGlyphs">dapE</text>
<text transform="translate(368.11,48.5) rotate(-90)" font-size="6.8" fill="#222" textLength="13.17" lengthAdjust="spacingAndGlyphs">dapF</text>
<text transform="translate(375.53,48.5) rotate(-90)" font-size="6.8" fill="#222" textLength="10.92" lengthAdjust="spacingAndGlyphs">lysA</text>
<text x="392.10" y="28.70" font-size="8.8" font-weight="bold" fill="#111" textLength="16.10" lengthAdjust="spacingAndGlyphs">ARG</text>
<text transform="translate(386.81,48.5) rotate(-90)" font-size="6.8" fill="#222" textLength="11.88" lengthAdjust="spacingAndGlyphs">argF</text>
<text transform="translate(394.23,48.5) rotate(-90)" font-size="6.8" fill="#222" textLength="12.85" lengthAdjust="spacingAndGlyphs">argG</text>
<text transform="translate(401.65,48.5) rotate(-90)" font-size="6.8" fill="#222" textLength="12.53" lengthAdjust="spacingAndGlyphs">argH</text>
<text transform="translate(409.07,48.5) rotate(-90)" font-size="6.8" fill="#222" textLength="11.88" lengthAdjust="spacingAndGlyphs">carA</text>
<text transform="translate(416.49,48.5) rotate(-90)" font-size="6.8" fill="#222" textLength="11.88" lengthAdjust="spacingAndGlyphs">carB</text>
<text x="445.00" y="28.70" font-size="8.8" font-weight="bold" fill="#111" textLength="12.30" lengthAdjust="spacingAndGlyphs">HIS</text>
<text transform="translate(427.31,48.5) rotate(-90)" font-size="6.8" fill="#222" textLength="11.24" lengthAdjust="spacingAndGlyphs">hisA</text>
<text transform="translate(434.73,48.5) rotate(-90)" font-size="6.8" fill="#222" textLength="11.24" lengthAdjust="spacingAndGlyphs">hisB</text>
<text transform="translate(442.15,48.5) rotate(-90)" font-size="6.8" fill="#222" textLength="11.56" lengthAdjust="spacingAndGlyphs">hisC</text>
<text transform="translate(449.57,48.5) rotate(-90)" font-size="6.8" fill="#222" textLength="11.56" lengthAdjust="spacingAndGlyphs">hisD</text>
<text transform="translate(456.99,48.5) rotate(-90)" font-size="6.8" fill="#222" textLength="11.24" lengthAdjust="spacingAndGlyphs">hisE</text>
<text transform="translate(464.41,48.5) rotate(-90)" font-size="6.8" fill="#222" textLength="10.92" lengthAdjust="spacingAndGlyphs">hisF</text>
<text transform="translate(471.83,48.5) rotate(-90)" font-size="6.8" fill="#222" textLength="11.88" lengthAdjust="spacingAndGlyphs">hisG</text>
<text transform="translate(479.25,48.5) rotate(-90)" font-size="6.8" fill="#222" textLength="11.56" lengthAdjust="spacingAndGlyphs">hisH</text>
<text transform="translate(486.67,48.5) rotate(-90)" font-size="6.8" fill="#222" textLength="8.99" lengthAdjust="spacingAndGlyphs">hisI</text>
<text x="513.90" y="28.70" font-size="8.8" font-weight="bold" fill="#111" textLength="14.00" lengthAdjust="spacingAndGlyphs">PHE</text>
<text transform="translate(497.81,48.5) rotate(-90)" font-size="6.8" fill="#222" textLength="12.85" lengthAdjust="spacingAndGlyphs">aroG</text>
<text transform="translate(505.23,48.5) rotate(-90)" font-size="6.8" fill="#222" textLength="12.21" lengthAdjust="spacingAndGlyphs">aroB</text>
<text transform="translate(512.65,48.5) rotate(-90)" font-size="6.8" fill="#222" textLength="12.85" lengthAdjust="spacingAndGlyphs">aroQ</text>
<text transform="translate(520.07,48.5) rotate(-90)" font-size="6.8" fill="#222" textLength="12.21" lengthAdjust="spacingAndGlyphs">aroE</text>
<text transform="translate(527.49,48.5) rotate(-90)" font-size="6.8" fill="#222" textLength="12.21" lengthAdjust="spacingAndGlyphs">aroK</text>
<text transform="translate(534.91,48.5) rotate(-90)" font-size="6.8" fill="#222" textLength="12.21" lengthAdjust="spacingAndGlyphs">aroA</text>
<text transform="translate(542.33,48.5) rotate(-90)" font-size="6.8" fill="#222" textLength="12.53" lengthAdjust="spacingAndGlyphs">aroC</text>
<text transform="translate(549.75,48.5) rotate(-90)" font-size="6.8" fill="#222" textLength="13.49" lengthAdjust="spacingAndGlyphs">aspC</text>
<text x="571.10" y="28.70" font-size="8.8" font-weight="bold" fill="#111" textLength="15.20" lengthAdjust="spacingAndGlyphs">TRP</text>
<text transform="translate(560.51,48.5) rotate(-90)" font-size="6.8" fill="#222" textLength="10.60" lengthAdjust="spacingAndGlyphs">trpE</text>
<text transform="translate(567.93,48.5) rotate(-90)" font-size="6.8" fill="#222" textLength="10.92" lengthAdjust="spacingAndGlyphs">trpD</text>
<text transform="translate(575.35,48.5) rotate(-90)" font-size="6.8" fill="#222" textLength="11.24" lengthAdjust="spacingAndGlyphs">trpG</text>
<text transform="translate(582.77,48.5) rotate(-90)" font-size="6.8" fill="#222" textLength="10.28" lengthAdjust="spacingAndGlyphs">trpF</text>
<text transform="translate(590.19,48.5) rotate(-90)" font-size="6.8" fill="#222" textLength="10.92" lengthAdjust="spacingAndGlyphs">trpC</text>
<text transform="translate(597.61,48.5) rotate(-90)" font-size="6.8" fill="#222" textLength="10.60" lengthAdjust="spacingAndGlyphs">trpB</text>
<text transform="translate(605.03,48.5) rotate(-90)" font-size="6.8" fill="#222" textLength="10.60" lengthAdjust="spacingAndGlyphs">trpA</text>
<text x="624.50" y="28.70" font-size="8.8" font-weight="bold" fill="#111" textLength="45.20" lengthAdjust="spacingAndGlyphs">LEU/VAL/ISO</text>
<text transform="translate(616.11,48.5) rotate(-90)" font-size="6.8" fill="#222" textLength="9.31" lengthAdjust="spacingAndGlyphs">ilvB</text>
<text transform="translate(623.53,48.5) rotate(-90)" font-size="6.8" fill="#222" textLength="9.63" lengthAdjust="spacingAndGlyphs">ilvN</text>
<text transform="translate(630.95,48.5) rotate(-90)" font-size="6.8" fill="#222" textLength="9.63" lengthAdjust="spacingAndGlyphs">ilvC</text>
<text transform="translate(638.37,48.5) rotate(-90)" font-size="6.8" fill="#222" textLength="9.63" lengthAdjust="spacingAndGlyphs">ilvD</text>
<text transform="translate(645.79,48.5) rotate(-90)" font-size="6.8" fill="#222" textLength="11.57" lengthAdjust="spacingAndGlyphs">leuA</text>
<text transform="translate(653.21,48.5) rotate(-90)" font-size="6.8" fill="#222" textLength="11.89" lengthAdjust="spacingAndGlyphs">leuC</text>
<text transform="translate(660.63,48.5) rotate(-90)" font-size="6.8" fill="#222" textLength="11.89" lengthAdjust="spacingAndGlyphs">leuD</text>
<text transform="translate(668.05,48.5) rotate(-90)" font-size="6.8" fill="#222" textLength="11.57" lengthAdjust="spacingAndGlyphs">leuB</text>
<text transform="translate(675.47,48.5) rotate(-90)" font-size="6.8" fill="#222" textLength="9.31" lengthAdjust="spacingAndGlyphs">ilvE</text>
<text transform="translate(682.89,48.5) rotate(-90)" font-size="6.8" fill="#222" textLength="9.31" lengthAdjust="spacingAndGlyphs">ilvA</text>
<defs><g id="tri"><path d="M0 0H7.42V7.45Z" fill="#cdcdcd"/><path d="M0 0L7.42 7.45" stroke="#222" stroke-width="0.65"/></g><g id="dM"><circle r="1.75" fill="#ff00ff" stroke="#2a2a2a" stroke-width="0.55"/></g><g id="dM_R"><path d="M-2.00 0.00A2.0 2.0 0 0 1 2.00 0.00Z" fill="#ff00ff"/><path d="M-2.00 0.00A2.0 2.0 0 0 0 2.00 0.00Z" fill="#deb887"/><circle cx="0.00" cy="0.00" r="2.0" fill="none" stroke="#2a2a2a" stroke-width="0.55"/></g><g id="dR"><circle r="1.75" fill="#deb887" stroke="#2a2a2a" stroke-width="0.55"/></g><g id="dT"><circle r="1.75" fill="#7b68ee" stroke="#2a2a2a" stroke-width="0.55"/></g><g id="db"><circle r="1.75" fill="#2f57e0" stroke="#2a2a2a" stroke-width="0.55"/></g><g id="db_r"><path d="M-2.00 0.00A2.0 2.0 0 0 1 2.00 0.00Z" fill="#2f57e0"/><path d="M-2.00 0.00A2.0 2.0 0 0 0 2.00 0.00Z" fill="#ff8a00"/><circle cx="0.00" cy="0.00" r="2.0" fill="none" stroke="#2a2a2a" stroke-width="0.55"/></g><g id="db_s"><path d="M-2.00 0.00A2.0 2.0 0 0 1 2.00 0.00Z" fill="#2f57e0"/><path d="M-2.00 0.00A2.0 2.0 0 0 0 2.00 0.00Z" fill="#b9c9cf"/><circle cx="0.00" cy="0.00" r="2.0" fill="none" stroke="#2a2a2a" stroke-width="0.55"/></g><g id="db_y"><path d="M-2.00 0.00A2.0 2.0 0 0 1 2.00 0.00Z" fill="#2f57e0"/><path d="M-2.00 0.00A2.0 2.0 0 0 0 2.00 0.00Z" fill="#ffd200"/><circle cx="0.00" cy="0.00" r="2.0" fill="none" stroke="#2a2a2a" stroke-width="0.55"/></g><g id="dc"><circle r="1.75" fill="#22d3e6" stroke="#2a2a2a" stroke-width="0.55"/></g><g id="dc_l"><path d="M-2.00 0.00A2.0 2.0 0 0 1 2.00 0.00Z" fill="#22d3e6"/><path d="M-2.00 0.00A2.0 2.0 0 0 0 2.00 0.00Z" fill="#66ff1a"/><circle cx="0.00" cy="0.00" r="2.0" fill="none" stroke="#2a2a2a" stroke-width="0.55"/></g><g id="dd"><circle r="1.75" fill="#4b0090" stroke="#2a2a2a" stroke-width="0.55"/></g><g id="dd_b"><path d="M-2.00 0.00A2.0 2.0 0 0 1 2.00 0.00Z" fill="#4b0090"/><path d="M-2.00 0.00A2.0 2.0 0 0 0 2.00 0.00Z" fill="#2f57e0"/><circle cx="0.00" cy="0.00" r="2.0" fill="none" stroke="#2a2a2a" stroke-width="0.55"/></g><g id="dg"><circle r="1.75" fill="#808080" stroke="#2a2a2a" stroke-width="0.55"/></g><g id="dg_o"><path d="M-2.00 0.00A2.0 2.0 0 0 1 2.00 0.00Z" fill="#808080"/><path d="M-2.00 0.00A2.0 2.0 0 0 0 2.00 0.00Z" fill="#bf5fd6"/><circle cx="0.00" cy="0.00" r="2.0" fill="none" stroke="#2a2a2a" stroke-width="0.55"/></g><g id="dl"><circle r="1.75" fill="#66ff1a" stroke="#2a2a2a" stroke-width="0.55"/></g><g id="dl_b"><path d="M-2.00 0.00A2.0 2.0 0 0 1 2.00 0.00Z" fill="#66ff1a"/><path d="M-2.00 0.00A2.0 2.0 0 0 0 2.00 0.00Z" fill="#2f57e0"/><circle cx="0.00" cy="0.00" r="2.0" fill="none" stroke="#2a2a2a" stroke-width="0.55"/></g><g id="dm"><circle r="1.75" fill="#8b0000" stroke="#2a2a2a" stroke-width="0.55"/></g><g id="dm_b"><path d="M-2.00 0.00A2.0 2.0 0 0 1 2.00 0.00Z" fill="#8b0000"/><path d="M-2.00 0.00A2.0 2.0 0 0 0 2.00 0.00Z" fill="#2f57e0"/><circle cx="0.00" cy="0.00" r="2.0" fill="none" stroke="#2a2a2a" stroke-width="0.55"/></g><g id="dn"><circle r="1.75" fill="#3b3b8a" stroke="#2a2a2a" stroke-width="0.55"/></g><g id="do"><circle r="1.75" fill="#bf5fd6" stroke="#2a2a2a" stroke-width="0.55"/></g><g id="dp"><circle r="1.75" fill="#ff69b4" stroke="#2a2a2a" stroke-width="0.55"/></g><g id="dq"><path d="M0.00 0.00L-1.99 -1.15A2.3 2.3 0 0 1 1.99 -1.15Z" fill="#a9a9f5"/><path d="M0.00 0.00L1.99 -1.15A2.3 2.3 0 0 1 0.00 2.30Z" fill="#ffc0cb"/><path d="M0.00 0.00L0.00 2.30A2.3 2.3 0 0 1 -1.99 -1.15Z" fill="#8c90d8"/><circle cx="0.00" cy="0.00" r="2.3" fill="none" stroke="#2a2a2a" stroke-width="0.55"/></g><g id="dr"><circle r="1.75" fill="#ff8a00" stroke="#2a2a2a" stroke-width="0.55"/></g><g id="dr_b"><path d="M-2.00 0.00A2.0 2.0 0 0 1 2.00 0.00Z" fill="#ff8a00"/><path d="M-2.00 0.00A2.0 2.0 0 0 0 2.00 0.00Z" fill="#2f57e0"/><circle cx="0.00" cy="0.00" r="2.0" fill="none" stroke="#2a2a2a" stroke-width="0.55"/></g><g id="dr_d"><path d="M-2.00 0.00A2.0 2.0 0 0 1 2.00 0.00Z" fill="#ff8a00"/><path d="M-2.00 0.00A2.0 2.0 0 0 0 2.00 0.00Z" fill="#4b0090"/><circle cx="0.00" cy="0.00" r="2.0" fill="none" stroke="#2a2a2a" stroke-width="0.55"/></g><g id="ds"><circle r="1.75" fill="#b9c9cf" stroke="#2a2a2a" stroke-width="0.55"/></g><g id="ds_y"><path d="M-2.00 0.00A2.0 2.0 0 0 1 2.00 0.00Z" fill="#b9c9cf"/><path d="M-2.00 0.00A2.0 2.0 0 0 0 2.00 0.00Z" fill="#ffd200"/><circle cx="0.00" cy="0.00" r="2.0" fill="none" stroke="#2a2a2a" stroke-width="0.55"/></g><g id="du"><path d="M0.00 0.00L-1.99 -1.15A2.3 2.3 0 0 1 1.99 -1.15Z" fill="#ff8a00"/><path d="M0.00 0.00L1.99 -1.15A2.3 2.3 0 0 1 0.00 2.30Z" fill="#4b0090"/><path d="M0.00 0.00L0.00 2.30A2.3 2.3 0 0 1 -1.99 -1.15Z" fill="#ffd200"/><circle cx="0.00" cy="0.00" r="2.3" fill="none" stroke="#2a2a2a" stroke-width="0.55"/></g><g id="dx"><path d="M0.00 0.00L-1.99 -1.15A2.3 2.3 0 0 1 1.99 -1.15Z" fill="#22d3e6"/><path d="M0.00 0.00L1.99 -1.15A2.3 2.3 0 0 1 0.00 2.30Z" fill="#66ff1a"/><path d="M0.00 0.00L0.00 2.30A2.3 2.3 0 0 1 -1.99 -1.15Z" fill="#2f57e0"/><circle cx="0.00" cy="0.00" r="2.3" fill="none" stroke="#2a2a2a" stroke-width="0.55"/></g><g id="dy"><circle r="1.75" fill="#ffd200" stroke="#2a2a2a" stroke-width="0.55"/></g><g id="dy_M"><path d="M-2.00 0.00A2.0 2.0 0 0 1 2.00 0.00Z" fill="#ffd200"/><path d="M-2.00 0.00A2.0 2.0 0 0 0 2.00 0.00Z" fill="#ff00ff"/><circle cx="0.00" cy="0.00" r="2.0" fill="none" stroke="#2a2a2a" stroke-width="0.55"/></g><g id="dy_m"><path d="M-2.00 0.00A2.0 2.0 0 0 1 2.00 0.00Z" fill="#ffd200"/><path d="M-2.00 0.00A2.0 2.0 0 0 0 2.00 0.00Z" fill="#8b0000"/><circle cx="0.00" cy="0.00" r="2.0" fill="none" stroke="#2a2a2a" stroke-width="0.55"/></g><g id="dy_p"><path d="M-2.00 0.00A2.0 2.0 0 0 1 2.00 0.00Z" fill="#ffd200"/><path d="M-2.00 0.00A2.0 2.0 0 0 0 2.00 0.00Z" fill="#ff69b4"/><circle cx="0.00" cy="0.00" r="2.0" fill="none" stroke="#2a2a2a" stroke-width="0.55"/></g><g id="dz"><path d="M0.00 0.00L-1.99 -1.15A2.3 2.3 0 0 1 1.99 -1.15Z" fill="#e6e6fa"/><path d="M0.00 0.00L1.99 -1.15A2.3 2.3 0 0 1 0.00 2.30Z" fill="#ff69b4"/><path d="M0.00 0.00L0.00 2.30A2.3 2.3 0 0 1 -1.99 -1.15Z" fill="#22d3e6"/><circle cx="0.00" cy="0.00" r="2.3" fill="none" stroke="#2a2a2a" stroke-width="0.55"/></g></defs>
<rect x="266.7" y="50.4" width="37.10" height="417.42" fill="#efb3b3"/><rect x="266.70" y="65.31" width="7.42" height="7.45" fill="#ffffff"/><rect x="266.70" y="72.76" width="37.10" height="7.45" fill="#ffffff"/><rect x="266.70" y="110.03" width="7.42" height="7.45" fill="#ffffff"/><rect x="281.54" y="117.49" width="7.42" height="7.45" fill="#ffffff"/><rect x="281.54" y="124.94" width="7.42" height="7.45" fill="#ffffff"/><rect x="281.54" y="132.39" width="22.26" height="7.45" fill="#ffffff"/><rect x="266.70" y="139.85" width="7.42" height="7.45" fill="#ffffff"/><rect x="281.54" y="139.85" width="7.42" height="7.45" fill="#ffffff"/><rect x="266.70" y="147.30" width="7.42" height="7.45" fill="#ffffff"/><rect x="281.54" y="147.30" width="7.42" height="7.45" fill="#ffffff"/><rect x="281.54" y="154.76" width="22.26" height="7.45" fill="#ffffff"/><rect x="281.54" y="169.66" width="22.26" height="7.45" fill="#ffffff"/><rect x="266.70" y="177.12" width="37.10" height="7.45" fill="#ffffff"/><rect x="266.70" y="184.57" width="37.10" height="7.45" fill="#ffffff"/><rect x="266.70" y="192.03" width="37.10" height="7.45" fill="#ffffff"/><rect x="307" y="50.4" width="14.84" height="417.42" fill="#efb3b3"/><use href="#tri" x="307.00" y="57.85"/><rect x="307.00" y="65.31" width="14.84" height="7.45" fill="#ffffff"/><rect x="307.00" y="72.76" width="14.84" height="7.45" fill="#ffffff"/><rect x="307.00" y="110.03" width="14.84" height="7.45" fill="#ffffff"/><use href="#tri" x="307.00" y="117.49"/><use href="#tri" x="307.00" y="124.94"/><rect x="307.00" y="132.39" width="14.84" height="7.45" fill="#ffffff"/><rect x="307.00" y="139.85" width="14.84" height="7.45" fill="#ffffff"/><rect x="307.00" y="147.30" width="7.42" height="7.45" fill="#cfcfcf"/><rect x="314.42" y="147.30" width="7.42" height="7.45" fill="#ffffff"/><rect x="307.00" y="192.03" width="7.42" height="7.45" fill="#cfcfcf"/><rect x="314.42" y="192.03" width="7.42" height="7.45" fill="#ffffff"/><use href="#tri" x="307.00" y="199.48"/><use href="#tri" x="307.00" y="303.84"/><use href="#tri" x="307.00" y="326.20"/><rect x="314.42" y="326.20" width="7.42" height="7.45" fill="#ffffff"/><use href="#tri" x="307.00" y="363.47"/><use href="#tri" x="307.00" y="393.28"/><rect x="325.4" y="50.4" width="51.94" height="417.42" fill="#efb3b3"/><rect x="340.24" y="50.40" width="7.42" height="7.45" fill="#ffffff"/><rect x="325.40" y="65.31" width="7.42" height="7.45" fill="#ffffff"/><rect x="325.40" y="72.76" width="51.94" height="7.45" fill="#ffffff"/><rect x="325.40" y="110.03" width="7.42" height="7.45" fill="#ffffff"/><rect x="325.40" y="139.85" width="7.42" height="7.45" fill="#ffffff"/><rect x="340.24" y="154.76" width="7.42" height="7.45" fill="#ffffff"/><rect x="340.24" y="162.21" width="7.42" height="7.45" fill="#ffffff"/><rect x="340.24" y="169.66" width="7.42" height="7.45" fill="#ffffff"/><rect x="325.40" y="177.12" width="51.94" height="7.45" fill="#ffffff"/><rect x="325.40" y="184.57" width="7.42" height="7.45" fill="#cfcfcf"/><rect x="332.82" y="184.57" width="44.52" height="7.45" fill="#ffffff"/><rect x="325.40" y="192.03" width="51.94" height="7.45" fill="#ffffff"/><rect x="340.24" y="199.48" width="7.42" height="7.45" fill="#ffffff"/><rect x="340.24" y="206.93" width="7.42" height="7.45" fill="#ffffff"/><rect x="340.24" y="214.39" width="7.42" height="7.45" fill="#ffffff"/><rect x="340.24" y="221.84" width="7.42" height="7.45" fill="#ffffff"/><rect x="340.24" y="303.84" width="7.42" height="7.45" fill="#ffffff"/><rect x="340.24" y="311.29" width="7.42" height="7.45" fill="#ffffff"/><rect x="340.24" y="326.20" width="7.42" height="7.45" fill="#ffffff"/><rect x="340.24" y="333.65" width="7.42" height="7.45" fill="#ffffff"/><rect x="340.24" y="341.11" width="7.42" height="7.45" fill="#ffffff"/><rect x="340.24" y="348.56" width="7.42" height="7.45" fill="#ffffff"/><rect x="340.24" y="356.01" width="7.42" height="7.45" fill="#ffffff"/><rect x="340.24" y="363.47" width="7.42" height="7.45" fill="#ffffff"/><rect x="340.24" y="400.74" width="7.42" height="7.45" fill="#ffffff"/><rect x="340.24" y="408.19" width="7.42" height="7.45" fill="#ffffff"/><rect x="340.24" y="415.65" width="7.42" height="7.45" fill="#ffffff"/><rect x="340.24" y="423.10" width="7.42" height="7.45" fill="#ffffff"/><rect x="340.24" y="430.55" width="7.42" height="7.45" fill="#ffffff"/><rect x="340.24" y="438.01" width="7.42" height="7.45" fill="#ffffff"/><rect x="340.24" y="445.46" width="7.42" height="7.45" fill="#ffffff"/><rect x="340.24" y="452.92" width="7.42" height="7.45" fill="#ffffff"/><rect x="340.24" y="460.37" width="7.42" height="7.45" fill="#ffffff"/><rect x="381.2" y="50.4" width="37.10" height="417.42" fill="#efb3b3"/><rect x="381.20" y="72.76" width="37.10" height="7.45" fill="#ffffff"/><rect x="381.20" y="132.39" width="7.42" height="7.45" fill="#ffffff"/><rect x="403.46" y="132.39" width="14.84" height="7.45" fill="#ffffff"/><rect x="381.20" y="154.76" width="37.10" height="7.45" fill="#ffffff"/><rect x="381.20" y="169.66" width="37.10" height="7.45" fill="#ffffff"/><rect x="381.20" y="177.12" width="37.10" height="7.45" fill="#ffffff"/><rect x="381.20" y="184.57" width="7.42" height="7.45" fill="#cfcfcf"/><rect x="388.62" y="184.57" width="29.68" height="7.45" fill="#ffffff"/><rect x="381.20" y="192.03" width="37.10" height="7.45" fill="#ffffff"/><rect x="410.88" y="251.66" width="7.42" height="7.45" fill="#ffffff"/><use href="#tri" x="381.20" y="370.92"/><rect x="381.20" y="400.74" width="37.10" height="7.45" fill="#ffffff"/><rect x="381.20" y="408.19" width="7.42" height="7.45" fill="#cfcfcf"/><rect x="388.62" y="408.19" width="29.68" height="7.45" fill="#ffffff"/><rect x="381.20" y="415.65" width="37.10" height="7.45" fill="#ffffff"/><rect x="381.20" y="423.10" width="7.42" height="7.45" fill="#cfcfcf"/><rect x="388.62" y="423.10" width="29.68" height="7.45" fill="#ffffff"/><rect x="421.7" y="50.4" width="66.78" height="417.42" fill="#efb3b3"/><rect x="421.70" y="72.76" width="66.78" height="7.45" fill="#ffffff"/><rect x="421.70" y="132.39" width="66.78" height="7.45" fill="#ffffff"/><rect x="421.70" y="154.76" width="66.78" height="7.45" fill="#ffffff"/><rect x="421.70" y="169.66" width="66.78" height="7.45" fill="#ffffff"/><rect x="421.70" y="177.12" width="66.78" height="7.45" fill="#ffffff"/><rect x="421.70" y="184.57" width="66.78" height="7.45" fill="#ffffff"/><rect x="421.70" y="192.03" width="66.78" height="7.45" fill="#ffffff"/><rect x="451.38" y="318.74" width="7.42" height="7.45" fill="#ffffff"/><rect x="492.2" y="50.4" width="59.36" height="417.42" fill="#efb3b3"/><rect x="544.14" y="50.40" width="7.42" height="7.45" fill="#e3f3d6"/><rect x="544.14" y="57.85" width="7.42" height="7.45" fill="#e3f3d6"/><use href="#tri" x="544.14" y="57.85"/><rect x="544.14" y="65.31" width="7.42" height="7.45" fill="#e3f3d6"/><use href="#tri" x="544.14" y="65.31"/><rect x="544.14" y="72.76" width="7.42" height="7.45" fill="#cfcfcf"/><rect x="544.14" y="80.22" width="7.42" height="7.45" fill="#ffffff"/><rect x="544.14" y="87.67" width="7.42" height="7.45" fill="#ffffff"/><rect x="544.14" y="95.12" width="7.42" height="7.45" fill="#e3f3d6"/><rect x="544.14" y="102.58" width="7.42" height="7.45" fill="#e3f3d6"/><rect x="544.14" y="110.03" width="7.42" height="7.45" fill="#e3f3d6"/><rect x="544.14" y="117.49" width="7.42" height="7.45" fill="#e3f3d6"/><use href="#tri" x="544.14" y="117.49"/><rect x="544.14" y="124.94" width="7.42" height="7.45" fill="#cfcfcf"/><rect x="492.20" y="132.39" width="51.94" height="7.45" fill="#ffffff"/><rect x="544.14" y="132.39" width="7.42" height="7.45" fill="#cfcfcf"/><rect x="544.14" y="139.85" width="7.42" height="7.45" fill="#cfcfcf"/><rect x="544.14" y="147.30" width="7.42" height="7.45" fill="#cfcfcf"/><rect x="544.14" y="154.76" width="7.42" height="7.45" fill="#ffffff"/><rect x="544.14" y="162.21" width="7.42" height="7.45" fill="#cfcfcf"/><rect x="544.14" y="169.66" width="7.42" height="7.45" fill="#cfcfcf"/><rect x="544.14" y="177.12" width="7.42" height="7.45" fill="#cfcfcf"/><rect x="544.14" y="184.57" width="7.42" height="7.45" fill="#ffffff"/><rect x="544.14" y="192.03" width="7.42" height="7.45" fill="#cfcfcf"/><use href="#tri" x="544.14" y="199.48"/><rect x="544.14" y="229.30" width="7.42" height="7.45" fill="#ffffff"/><rect x="544.14" y="236.75" width="7.42" height="7.45" fill="#cfcfcf"/><rect x="544.14" y="244.20" width="7.42" height="7.45" fill="#ffffff"/><rect x="544.14" y="251.66" width="7.42" height="7.45" fill="#ffffff"/><rect x="544.14" y="259.11" width="7.42" height="7.45" fill="#cfcfcf"/><rect x="544.14" y="266.57" width="7.42" height="7.45" fill="#cfcfcf"/><rect x="544.14" y="274.02" width="7.42" height="7.45" fill="#cfcfcf"/><rect x="544.14" y="281.47" width="7.42" height="7.45" fill="#ffffff"/><rect x="544.14" y="288.93" width="7.42" height="7.45" fill="#cfcfcf"/><rect x="544.14" y="296.38" width="7.42" height="7.45" fill="#cfcfcf"/><rect x="544.14" y="303.84" width="7.42" height="7.45" fill="#cfcfcf"/><rect x="544.14" y="311.29" width="7.42" height="7.45" fill="#ffffff"/><use href="#tri" x="544.14" y="326.20"/><use href="#tri" x="544.14" y="348.56"/><use href="#tri" x="544.14" y="356.01"/><use href="#tri" x="544.14" y="363.47"/><rect x="544.14" y="370.92" width="7.42" height="7.45" fill="#cfcfcf"/><rect x="544.14" y="378.38" width="7.42" height="7.45" fill="#cfcfcf"/><rect x="544.14" y="385.83" width="7.42" height="7.45" fill="#cfcfcf"/><rect x="544.14" y="393.28" width="7.42" height="7.45" fill="#cfcfcf"/><use href="#tri" x="544.14" y="408.19"/><use href="#tri" x="544.14" y="415.65"/><use href="#tri" x="544.14" y="423.10"/><use href="#tri" x="544.14" y="452.92"/><use href="#tri" x="544.14" y="460.37"/><rect x="554.9" y="50.4" width="51.94" height="417.42" fill="#efb3b3"/><rect x="554.90" y="65.31" width="51.94" height="7.45" fill="#ffffff"/><rect x="554.90" y="72.76" width="51.94" height="7.45" fill="#ffffff"/><rect x="554.90" y="132.39" width="37.10" height="7.45" fill="#ffffff"/><rect x="599.42" y="132.39" width="7.42" height="7.45" fill="#ffffff"/><rect x="554.90" y="154.76" width="51.94" height="7.45" fill="#ffffff"/><rect x="554.90" y="162.21" width="51.94" height="7.45" fill="#ffffff"/><rect x="554.90" y="169.66" width="51.94" height="7.45" fill="#ffffff"/><rect x="554.90" y="177.12" width="51.94" height="7.45" fill="#ffffff"/><rect x="554.90" y="184.57" width="51.94" height="7.45" fill="#ffffff"/><rect x="554.90" y="192.03" width="51.94" height="7.45" fill="#ffffff"/><rect x="592.00" y="259.11" width="7.42" height="7.45" fill="#ffffff"/><rect x="554.90" y="311.29" width="37.10" height="7.45" fill="#ffffff"/><rect x="599.42" y="311.29" width="7.42" height="7.45" fill="#ffffff"/><rect x="577.16" y="341.11" width="7.42" height="7.45" fill="#ffffff"/><rect x="562.32" y="378.38" width="7.42" height="7.45" fill="#ffffff"/><rect x="554.90" y="400.74" width="14.84" height="7.45" fill="#ffffff"/><rect x="577.16" y="400.74" width="29.68" height="7.45" fill="#ffffff"/><rect x="562.32" y="408.19" width="7.42" height="7.45" fill="#ffffff"/><rect x="577.16" y="408.19" width="29.68" height="7.45" fill="#ffffff"/><rect x="562.32" y="415.65" width="7.42" height="7.45" fill="#ffffff"/><rect x="577.16" y="415.65" width="29.68" height="7.45" fill="#ffffff"/><rect x="562.32" y="423.10" width="7.42" height="7.45" fill="#ffffff"/><rect x="577.16" y="423.10" width="29.68" height="7.45" fill="#ffffff"/><rect x="610.5" y="50.4" width="74.20" height="417.42" fill="#e3f3d6"/><use href="#tri" x="669.86" y="57.85"/><use href="#tri" x="677.28" y="57.85"/><use href="#tri" x="669.86" y="65.31"/><use href="#tri" x="677.28" y="65.31"/><rect x="610.50" y="72.76" width="59.36" height="7.45" fill="#ffffff"/><rect x="669.86" y="72.76" width="14.84" height="7.45" fill="#cfcfcf"/><use href="#tri" x="669.86" y="117.49"/><use href="#tri" x="669.86" y="124.94"/><use href="#tri" x="677.28" y="124.94"/><rect x="610.50" y="132.39" width="59.36" height="7.45" fill="#ffffff"/><rect x="669.86" y="132.39" width="7.42" height="7.45" fill="#cfcfcf"/><rect x="677.28" y="132.39" width="7.42" height="7.45" fill="#ffffff"/><use href="#tri" x="669.86" y="162.21"/><rect x="610.50" y="169.66" width="74.20" height="7.45" fill="#ffffff"/><rect x="610.50" y="177.12" width="66.78" height="7.45" fill="#ffffff"/><rect x="677.28" y="177.12" width="7.42" height="7.45" fill="#cfcfcf"/><rect x="610.50" y="184.57" width="59.36" height="7.45" fill="#ffffff"/><rect x="669.86" y="184.57" width="7.42" height="7.45" fill="#cfcfcf"/><rect x="677.28" y="184.57" width="7.42" height="7.45" fill="#ffffff"/><rect x="610.50" y="192.03" width="74.20" height="7.45" fill="#ffffff"/><use href="#tri" x="669.86" y="199.48"/><use href="#tri" x="669.86" y="251.66"/><use href="#tri" x="669.86" y="259.11"/><use href="#tri" x="669.86" y="274.02"/><use href="#tri" x="669.86" y="303.84"/><use href="#tri" x="677.28" y="303.84"/><rect x="610.50" y="326.20" width="74.20" height="7.45" fill="#ffffff"/><use href="#tri" x="669.86" y="356.01"/><use href="#tri" x="669.86" y="363.47"/><use href="#tri" x="669.86" y="370.92"/><use href="#tri" x="677.28" y="370.92"/><use href="#tri" x="669.86" y="385.83"/><use href="#tri" x="677.28" y="385.83"/><use href="#tri" x="669.86" y="430.55"/><use href="#tri" x="677.28" y="430.55"/><use href="#tri" x="669.86" y="452.92"/><use href="#tri" x="669.86" y="460.37"/>
<path d="M274.12 50.40V467.82M281.54 50.40V467.82M288.96 50.40V467.82M296.38 50.40V467.82M266.70 57.85h37.10M266.70 65.31h37.10M266.70 72.76h37.10M266.70 80.22h37.10M266.70 87.67h37.10M266.70 95.12h37.10M266.70 102.58h37.10M266.70 110.03h37.10M266.70 117.49h37.10M266.70 124.94h37.10M266.70 132.39h37.10M266.70 139.85h37.10M266.70 147.30h37.10M266.70 154.76h37.10M266.70 162.21h37.10M266.70 169.66h37.10M266.70 177.12h37.10M266.70 184.57h37.10M266.70 192.03h37.10M266.70 199.48h37.10M266.70 206.93h37.10M266.70 214.39h37.10M266.70 221.84h37.10M266.70 229.30h37.10M266.70 236.75h37.10M266.70 244.20h37.10M266.70 251.66h37.10M266.70 259.11h37.10M266.70 266.57h37.10M266.70 274.02h37.10M266.70 281.47h37.10M266.70 288.93h37.10M266.70 296.38h37.10M266.70 303.84h37.10M266.70 311.29h37.10M266.70 318.74h37.10M266.70 326.20h37.10M266.70 333.65h37.10M266.70 341.11h37.10M266.70 348.56h37.10M266.70 356.01h37.10M266.70 363.47h37.10M266.70 370.92h37.10M266.70 378.38h37.10M266.70 385.83h37.10M266.70 393.28h37.10M266.70 400.74h37.10M266.70 408.19h37.10M266.70 415.65h37.10M266.70 423.10h37.10M266.70 430.55h37.10M266.70 438.01h37.10M266.70 445.46h37.10M266.70 452.92h37.10M266.70 460.37h37.10" stroke="#3d3434" stroke-width="0.7" fill="none"/><rect x="266.70" y="50.40" width="37.10" height="417.42" fill="none" stroke="#9a9a9a" stroke-width="0.7"/><path d="M314.42 50.40V467.82M307.00 57.85h14.84M307.00 65.31h14.84M307.00 72.76h14.84M307.00 80.22h14.84M307.00 87.67h14.84M307.00 95.12h14.84M307.00 102.58h14.84M307.00 110.03h14.84M307.00 117.49h14.84M307.00 124.94h14.84M307.00 132.39h14.84M307.00 139.85h14.84M307.00 147.30h14.84M307.00 154.76h14.84M307.00 162.21h14.84M307.00 169.66h14.84M307.00 177.12h14.84M307.00 184.57h14.84M307.00 192.03h14.84M307.00 199.48h14.84M307.00 206.93h14.84M307.00 214.39h14.84M307.00 221.84h14.84M307.00 229.30h14.84M307.00 236.75h14.84M307.00 244.20h14.84M307.00 251.66h14.84M307.00 259.11h14.84M307.00 266.57h14.84M307.00 274.02h14.84M307.00 281.47h14.84M307.00 288.93h14.84M307.00 296.38h14.84M307.00 303.84h14.84M307.00 311.29h14.84M307.00 318.74h14.84M307.00 326.20h14.84M307.00 333.65h14.84M307.00 341.11h14.84M307.00 348.56h14.84M307.00 356.01h14.84M307.00 363.47h14.84M307.00 370.92h14.84M307.00 378.38h14.84M307.00 385.83h14.84M307.00 393.28h14.84M307.00 400.74h14.84M307.00 408.19h14.84M307.00 415.65h14.84M307.00 423.10h14.84M307.00 430.55h14.84M307.00 438.01h14.84M307.00 445.46h14.84M307.00 452.92h14.84M307.00 460.37h14.84" stroke="#3d3434" stroke-width="0.7" fill="none"/><rect x="307.00" y="50.40" width="14.84" height="417.42" fill="none" stroke="#9a9a9a" stroke-width="0.7"/><path d="M332.82 50.40V467.82M340.24 50.40V467.82M347.66 50.40V467.82M355.08 50.40V467.82M362.50 50.40V467.82M369.92 50.40V467.82M325.40 57.85h51.94M325.40 65.31h51.94M325.40 72.76h51.94M325.40 80.22h51.94M325.40 87.67h51.94M325.40 95.12h51.94M325.40 102.58h51.94M325.40 110.03h51.94M325.40 117.49h51.94M325.40 124.94h51.94M325.40 132.39h51.94M325.40 139.85h51.94M325.40 147.30h51.94M325.40 154.76h51.94M325.40 162.21h51.94M325.40 169.66h51.94M325.40 177.12h51.94M325.40 184.57h51.94M325.40 192.03h51.94M325.40 199.48h51.94M325.40 206.93h51.94M325.40 214.39h51.94M325.40 221.84h51.94M325.40 229.30h51.94M325.40 236.75h51.94M325.40 244.20h51.94M325.40 251.66h51.94M325.40 259.11h51.94M325.40 266.57h51.94M325.40 274.02h51.94M325.40 281.47h51.94M325.40 288.93h51.94M325.40 296.38h51.94M325.40 303.84h51.94M325.40 311.29h51.94M325.40 318.74h51.94M325.40 326.20h51.94M325.40 333.65h51.94M325.40 341.11h51.94M325.40 348.56h51.94M325.40 356.01h51.94M325.40 363.47h51.94M325.40 370.92h51.94M325.40 378.38h51.94M325.40 385.83h51.94M325.40 393.28h51.94M325.40 400.74h51.94M325.40 408.19h51.94M325.40 415.65h51.94M325.40 423.10h51.94M325.40 430.55h51.94M325.40 438.01h51.94M325.40 445.46h51.94M325.40 452.92h51.94M325.40 460.37h51.94" stroke="#3d3434" stroke-width="0.7" fill="none"/><rect x="325.40" y="50.40" width="51.94" height="417.42" fill="none" stroke="#9a9a9a" stroke-width="0.7"/><path d="M388.62 50.40V467.82M396.04 50.40V467.82M403.46 50.40V467.82M410.88 50.40V467.82M381.20 57.85h37.10M381.20 65.31h37.10M381.20 72.76h37.10M381.20 80.22h37.10M381.20 87.67h37.10M381.20 95.12h37.10M381.20 102.58h37.10M381.20 110.03h37.10M381.20 117.49h37.10M381.20 124.94h37.10M381.20 132.39h37.10M381.20 139.85h37.10M381.20 147.30h37.10M381.20 154.76h37.10M381.20 162.21h37.10M381.20 169.66h37.10M381.20 177.12h37.10M381.20 184.57h37.10M381.20 192.03h37.10M381.20 199.48h37.10M381.20 206.93h37.10M381.20 214.39h37.10M381.20 221.84h37.10M381.20 229.30h37.10M381.20 236.75h37.10M381.20 244.20h37.10M381.20 251.66h37.10M381.20 259.11h37.10M381.20 266.57h37.10M381.20 274.02h37.10M381.20 281.47h37.10M381.20 288.93h37.10M381.20 296.38h37.10M381.20 303.84h37.10M381.20 311.29h37.10M381.20 318.74h37.10M381.20 326.20h37.10M381.20 333.65h37.10M381.20 341.11h37.10M381.20 348.56h37.10M381.20 356.01h37.10M381.20 363.47h37.10M381.20 370.92h37.10M381.20 378.38h37.10M381.20 385.83h37.10M381.20 393.28h37.10M381.20 400.74h37.10M381.20 408.19h37.10M381.20 415.65h37.10M381.20 423.10h37.10M381.20 430.55h37.10M381.20 438.01h37.10M381.20 445.46h37.10M381.20 452.92h37.10M381.20 460.37h37.10" stroke="#3d3434" stroke-width="0.7" fill="none"/><rect x="381.20" y="50.40" width="37.10" height="417.42" fill="none" stroke="#9a9a9a" stroke-width="0.7"/><path d="M429.12 50.40V467.82M436.54 50.40V467.82M443.96 50.40V467.82M451.38 50.40V467.82M458.80 50.40V467.82M466.22 50.40V467.82M473.64 50.40V467.82M481.06 50.40V467.82M421.70 57.85h66.78M421.70 65.31h66.78M421.70 72.76h66.78M421.70 80.22h66.78M421.70 87.67h66.78M421.70 95.12h66.78M421.70 102.58h66.78M421.70 110.03h66.78M421.70 117.49h66.78M421.70 124.94h66.78M421.70 132.39h66.78M421.70 139.85h66.78M421.70 147.30h66.78M421.70 154.76h66.78M421.70 162.21h66.78M421.70 169.66h66.78M421.70 177.12h66.78M421.70 184.57h66.78M421.70 192.03h66.78M421.70 199.48h66.78M421.70 206.93h66.78M421.70 214.39h66.78M421.70 221.84h66.78M421.70 229.30h66.78M421.70 236.75h66.78M421.70 244.20h66.78M421.70 251.66h66.78M421.70 259.11h66.78M421.70 266.57h66.78M421.70 274.02h66.78M421.70 281.47h66.78M421.70 288.93h66.78M421.70 296.38h66.78M421.70 303.84h66.78M421.70 311.29h66.78M421.70 318.74h66.78M421.70 326.20h66.78M421.70 333.65h66.78M421.70 341.11h66.78M421.70 348.56h66.78M421.70 356.01h66.78M421.70 363.47h66.78M421.70 370.92h66.78M421.70 378.38h66.78M421.70 385.83h66.78M421.70 393.28h66.78M421.70 400.74h66.78M421.70 408.19h66.78M421.70 415.65h66.78M421.70 423.10h66.78M421.70 430.55h66.78M421.70 438.01h66.78M421.70 445.46h66.78M421.70 452.92h66.78M421.70 460.37h66.78" stroke="#3d3434" stroke-width="0.7" fill="none"/><rect x="421.70" y="50.40" width="66.78" height="417.42" fill="none" stroke="#9a9a9a" stroke-width="0.7"/><path d="M499.62 50.40V467.82M507.04 50.40V467.82M514.46 50.40V467.82M521.88 50.40V467.82M529.30 50.40V467.82M536.72 50.40V467.82M544.14 50.40V467.82M492.20 57.85h59.36M492.20 65.31h59.36M492.20 72.76h59.36M492.20 80.22h59.36M492.20 87.67h59.36M492.20 95.12h59.36M492.20 102.58h59.36M492.20 110.03h59.36M492.20 117.49h59.36M492.20 124.94h59.36M492.20 132.39h59.36M492.20 139.85h59.36M492.20 147.30h59.36M492.20 154.76h59.36M492.20 162.21h59.36M492.20 169.66h59.36M492.20 177.12h59.36M492.20 184.57h59.36M492.20 192.03h59.36M492.20 199.48h59.36M492.20 206.93h59.36M492.20 214.39h59.36M492.20 221.84h59.36M492.20 229.30h59.36M492.20 236.75h59.36M492.20 244.20h59.36M492.20 251.66h59.36M492.20 259.11h59.36M492.20 266.57h59.36M492.20 274.02h59.36M492.20 281.47h59.36M492.20 288.93h59.36M492.20 296.38h59.36M492.20 303.84h59.36M492.20 311.29h59.36M492.20 318.74h59.36M492.20 326.20h59.36M492.20 333.65h59.36M492.20 341.11h59.36M492.20 348.56h59.36M492.20 356.01h59.36M492.20 363.47h59.36M492.20 370.92h59.36M492.20 378.38h59.36M492.20 385.83h59.36M492.20 393.28h59.36M492.20 400.74h59.36M492.20 408.19h59.36M492.20 415.65h59.36M492.20 423.10h59.36M492.20 430.55h59.36M492.20 438.01h59.36M492.20 445.46h59.36M492.20 452.92h59.36M492.20 460.37h59.36" stroke="#3d3434" stroke-width="0.7" fill="none"/><rect x="492.20" y="50.40" width="59.36" height="417.42" fill="none" stroke="#9a9a9a" stroke-width="0.7"/><path d="M562.32 50.40V467.82M569.74 50.40V467.82M577.16 50.40V467.82M584.58 50.40V467.82M592.00 50.40V467.82M599.42 50.40V467.82M554.90 57.85h51.94M554.90 65.31h51.94M554.90 72.76h51.94M554.90 80.22h51.94M554.90 87.67h51.94M554.90 95.12h51.94M554.90 102.58h51.94M554.90 110.03h51.94M554.90 117.49h51.94M554.90 124.94h51.94M554.90 132.39h51.94M554.90 139.85h51.94M554.90 147.30h51.94M554.90 154.76h51.94M554.90 162.21h51.94M554.90 169.66h51.94M554.90 177.12h51.94M554.90 184.57h51.94M554.90 192.03h51.94M554.90 199.48h51.94M554.90 206.93h51.94M554.90 214.39h51.94M554.90 221.84h51.94M554.90 229.30h51.94M554.90 236.75h51.94M554.90 244.20h51.94M554.90 251.66h51.94M554.90 259.11h51.94M554.90 266.57h51.94M554.90 274.02h51.94M554.90 281.47h51.94M554.90 288.93h51.94M554.90 296.38h51.94M554.90 303.84h51.94M554.90 311.29h51.94M554.90 318.74h51.94M554.90 326.20h51.94M554.90 333.65h51.94M554.90 341.11h51.94M554.90 348.56h51.94M554.90 356.01h51.94M554.90 363.47h51.94M554.90 370.92h51.94M554.90 378.38h51.94M554.90 385.83h51.94M554.90 393.28h51.94M554.90 400.74h51.94M554.90 408.19h51.94M554.90 415.65h51.94M554.90 423.10h51.94M554.90 430.55h51.94M554.90 438.01h51.94M554.90 445.46h51.94M554.90 452.92h51.94M554.90 460.37h51.94" stroke="#3d3434" stroke-width="0.7" fill="none"/><rect x="554.90" y="50.40" width="51.94" height="417.42" fill="none" stroke="#9a9a9a" stroke-width="0.7"/><path d="M617.92 50.40V467.82M625.34 50.40V467.82M632.76 50.40V467.82M640.18 50.40V467.82M647.60 50.40V467.82M655.02 50.40V467.82M662.44 50.40V467.82M669.86 50.40V467.82M677.28 50.40V467.82M610.50 57.85h74.20M610.50 65.31h74.20M610.50 72.76h74.20M610.50 80.22h74.20M610.50 87.67h74.20M610.50 95.12h74.20M610.50 102.58h74.20M610.50 110.03h74.20M610.50 117.49h74.20M610.50 124.94h74.20M610.50 132.39h74.20M610.50 139.85h74.20M610.50 147.30h74.20M610.50 154.76h74.20M610.50 162.21h74.20M610.50 169.66h74.20M610.50 177.12h74.20M610.50 184.57h74.20M610.50 192.03h74.20M610.50 199.48h74.20M610.50 206.93h74.20M610.50 214.39h74.20M610.50 221.84h74.20M610.50 229.30h74.20M610.50 236.75h74.20M610.50 244.20h74.20M610.50 251.66h74.20M610.50 259.11h74.20M610.50 266.57h74.20M610.50 274.02h74.20M610.50 281.47h74.20M610.50 288.93h74.20M610.50 296.38h74.20M610.50 303.84h74.20M610.50 311.29h74.20M610.50 318.74h74.20M610.50 326.20h74.20M610.50 333.65h74.20M610.50 341.11h74.20M610.50 348.56h74.20M610.50 356.01h74.20M610.50 363.47h74.20M610.50 370.92h74.20M610.50 378.38h74.20M610.50 385.83h74.20M610.50 393.28h74.20M610.50 400.74h74.20M610.50 408.19h74.20M610.50 415.65h74.20M610.50 423.10h74.20M610.50 430.55h74.20M610.50 438.01h74.20M610.50 445.46h74.20M610.50 452.92h74.20M610.50 460.37h74.20" stroke="#3d3434" stroke-width="0.7" fill="none"/><rect x="610.50" y="50.40" width="74.20" height="417.42" fill="none" stroke="#9a9a9a" stroke-width="0.7"/>
<use href="#dn" x="270.41" y="54.13"/><use href="#dn" x="277.83" y="54.13"/><use href="#dn" x="285.25" y="54.13"/><use href="#dm" x="270.41" y="61.58"/><use href="#dm" x="277.83" y="61.58"/><use href="#dm" x="285.25" y="61.58"/><use href="#dm" x="300.09" y="61.58"/><use href="#do" x="270.41" y="69.03"/><use href="#do" x="277.83" y="69.03"/><use href="#do" x="285.25" y="69.03"/><use href="#dy_M" x="270.41" y="76.49"/><use href="#dy_M" x="277.83" y="76.49"/><use href="#dy_M" x="285.25" y="76.49"/><use href="#dM" x="292.67" y="76.49"/><use href="#dy_M" x="300.09" y="76.49"/><use href="#dx" x="270.41" y="98.85"/><use href="#dx" x="277.83" y="98.85"/><use href="#dx" x="285.25" y="98.85"/><use href="#db" x="270.41" y="106.31"/><use href="#db" x="277.83" y="106.31"/><use href="#db" x="285.25" y="106.31"/><use href="#db" x="270.41" y="113.76"/><use href="#db" x="277.83" y="113.76"/><use href="#db" x="285.25" y="113.76"/><use href="#db" x="270.41" y="121.21"/><use href="#db" x="277.83" y="121.21"/><use href="#db" x="285.25" y="121.21"/><use href="#db" x="270.41" y="128.67"/><use href="#db" x="277.83" y="128.67"/><use href="#db" x="285.25" y="128.67"/><use href="#dr" x="270.41" y="143.57"/><use href="#dr" x="277.83" y="143.57"/><use href="#dr" x="285.25" y="143.57"/><use href="#dm_b" x="270.41" y="151.03"/><use href="#dm" x="277.83" y="151.03"/><use href="#dm" x="285.25" y="151.03"/><use href="#dm" x="300.09" y="151.03"/><use href="#dd" x="270.41" y="158.48"/><use href="#db" x="277.83" y="158.48"/><use href="#dd" x="285.25" y="158.48"/><use href="#do" x="270.41" y="173.39"/><use href="#do" x="277.83" y="173.39"/><use href="#do" x="285.25" y="173.39"/><use href="#dT" x="270.41" y="180.84"/><use href="#dT" x="277.83" y="180.84"/><use href="#dT" x="285.25" y="180.84"/><use href="#db" x="270.41" y="188.30"/><use href="#db" x="277.83" y="188.30"/><use href="#db" x="285.25" y="188.30"/><use href="#ds" x="270.41" y="195.75"/><use href="#ds" x="277.83" y="195.75"/><use href="#ds" x="285.25" y="195.75"/><use href="#ds" x="292.67" y="195.75"/><use href="#dr" x="270.41" y="210.66"/><use href="#dr" x="277.83" y="210.66"/><use href="#dr" x="285.25" y="210.66"/><use href="#dr" x="292.67" y="210.66"/><use href="#dy" x="270.41" y="218.12"/><use href="#dy" x="277.83" y="218.12"/><use href="#dy" x="285.25" y="218.12"/><use href="#dy" x="270.41" y="225.57"/><use href="#dy" x="277.83" y="225.57"/><use href="#dy" x="285.25" y="225.57"/><use href="#dM_R" x="270.41" y="233.02"/><use href="#dM_R" x="277.83" y="233.02"/><use href="#dR" x="285.25" y="233.02"/><use href="#dR" x="292.67" y="233.02"/><use href="#dR" x="300.09" y="233.02"/><use href="#dy" x="270.41" y="240.48"/><use href="#dy" x="277.83" y="240.48"/><use href="#dy" x="285.25" y="240.48"/><use href="#db_y" x="270.41" y="247.93"/><use href="#dy" x="277.83" y="247.93"/><use href="#db_y" x="285.25" y="247.93"/><use href="#dy" x="300.09" y="247.93"/><use href="#db" x="270.41" y="262.84"/><use href="#db" x="277.83" y="262.84"/><use href="#db" x="285.25" y="262.84"/><use href="#dy" x="270.41" y="270.29"/><use href="#dy" x="277.83" y="270.29"/><use href="#dy" x="285.25" y="270.29"/><use href="#dy" x="270.41" y="277.75"/><use href="#dy" x="277.83" y="277.75"/><use href="#dy" x="285.25" y="277.75"/><use href="#dr" x="285.25" y="285.20"/><use href="#db_r" x="270.41" y="307.56"/><use href="#db_r" x="277.83" y="307.56"/><use href="#dr" x="285.25" y="307.56"/><use href="#dr" x="300.09" y="307.56"/><use href="#dp" x="270.41" y="315.02"/><use href="#dp" x="277.83" y="315.02"/><use href="#dp" x="285.25" y="315.02"/><use href="#dp" x="292.67" y="315.02"/><use href="#dp" x="300.09" y="315.02"/><use href="#dg_o" x="270.41" y="322.47"/><use href="#dg_o" x="277.83" y="322.47"/><use href="#dg_o" x="285.25" y="322.47"/><use href="#ds" x="270.41" y="329.92"/><use href="#ds" x="277.83" y="329.92"/><use href="#ds" x="285.25" y="329.92"/><use href="#ds" x="300.09" y="329.92"/><use href="#dz" x="270.41" y="337.38"/><use href="#dz" x="277.83" y="337.38"/><use href="#dz" x="285.25" y="337.38"/><use href="#dp" x="292.67" y="337.38"/><use href="#dz" x="300.09" y="337.38"/><use href="#dy_p" x="270.41" y="344.83"/><use href="#dy_p" x="277.83" y="344.83"/><use href="#dp" x="285.25" y="344.83"/><use href="#dp" x="292.67" y="344.83"/><use href="#dp" x="300.09" y="344.83"/><use href="#dy" x="277.83" y="359.74"/><use href="#dc" x="270.41" y="367.19"/><use href="#dc" x="277.83" y="367.19"/><use href="#dc" x="285.25" y="367.19"/><use href="#dc" x="300.09" y="367.19"/><use href="#dq" x="270.41" y="382.10"/><use href="#dq" x="277.83" y="382.10"/><use href="#dq" x="285.25" y="382.10"/><use href="#dq" x="300.09" y="382.10"/><use href="#dy" x="270.41" y="389.56"/><use href="#dy" x="277.83" y="389.56"/><use href="#dl_b" x="270.41" y="397.01"/><use href="#dl_b" x="277.83" y="397.01"/><use href="#dl_b" x="285.25" y="397.01"/><use href="#dr_d" x="270.41" y="404.46"/><use href="#dr" x="277.83" y="404.46"/><use href="#dr_d" x="285.25" y="404.46"/><use href="#dr" x="292.67" y="404.46"/><use href="#dr" x="300.09" y="404.46"/><use href="#dm" x="270.41" y="419.37"/><use href="#dm" x="277.83" y="419.37"/><use href="#ds_y" x="270.41" y="434.28"/><use href="#ds_y" x="277.83" y="434.28"/><use href="#ds_y" x="285.25" y="434.28"/><use href="#ds_y" x="300.09" y="434.28"/><use href="#dy" x="270.41" y="449.19"/><use href="#dy" x="277.83" y="449.19"/><use href="#dy" x="285.25" y="449.19"/><use href="#dy" x="270.41" y="456.64"/><use href="#dy" x="277.83" y="456.64"/><use href="#dy" x="285.25" y="456.64"/><use href="#dy" x="270.41" y="464.10"/><use href="#dy" x="277.83" y="464.10"/><use href="#dy" x="285.25" y="464.10"/><use href="#dn" x="310.71" y="54.13"/><use href="#db" x="310.71" y="98.85"/><use href="#db" x="310.71" y="106.31"/><use href="#db" x="310.71" y="113.76"/><use href="#db" x="310.71" y="128.67"/><use href="#dm" x="310.71" y="151.03"/><use href="#dm" x="318.13" y="151.03"/><use href="#db" x="310.71" y="188.30"/><use href="#ds" x="310.71" y="195.75"/><use href="#ds" x="318.13" y="195.75"/><use href="#dR" x="310.71" y="233.02"/><use href="#dR" x="318.13" y="233.02"/><use href="#dy" x="310.71" y="240.48"/><use href="#db" x="310.71" y="247.93"/><use href="#db" x="310.71" y="262.84"/><use href="#dr" x="310.71" y="307.56"/><use href="#dp" x="310.71" y="315.02"/><use href="#dp" x="318.13" y="315.02"/><use href="#ds" x="310.71" y="329.92"/><use href="#ds" x="318.13" y="329.92"/><use href="#dz" x="310.71" y="337.38"/><use href="#dz" x="318.13" y="337.38"/><use href="#dp" x="310.71" y="344.83"/><use href="#dp" x="318.13" y="344.83"/><use href="#dc" x="318.13" y="367.19"/><use href="#dq" x="310.71" y="382.10"/><use href="#dq" x="318.13" y="382.10"/><use href="#db" x="310.71" y="397.01"/><use href="#dr_d" x="310.71" y="404.46"/><use href="#ds" x="318.13" y="434.28"/><use href="#dn" x="329.11" y="54.13"/><use href="#dn" x="336.53" y="54.13"/><use href="#dn" x="343.95" y="54.13"/><use href="#dn" x="351.37" y="54.13"/><use href="#dn" x="358.79" y="54.13"/><use href="#dn" x="366.21" y="54.13"/><use href="#dn" x="373.63" y="54.13"/><use href="#dm" x="329.11" y="61.58"/><use href="#dm" x="336.53" y="61.58"/><use href="#dm" x="351.37" y="61.58"/><use href="#dm" x="358.79" y="61.58"/><use href="#dm" x="366.21" y="61.58"/><use href="#do" x="329.11" y="69.03"/><use href="#do" x="336.53" y="69.03"/><use href="#do" x="343.95" y="69.03"/><use href="#do" x="351.37" y="69.03"/><use href="#do" x="358.79" y="69.03"/><use href="#do" x="366.21" y="69.03"/><use href="#dy_M" x="329.11" y="76.49"/><use href="#dy_M" x="336.53" y="76.49"/><use href="#dM" x="343.95" y="76.49"/><use href="#dy_M" x="351.37" y="76.49"/><use href="#dy_M" x="358.79" y="76.49"/><use href="#dM" x="366.21" y="76.49"/><use href="#dy_M" x="373.63" y="76.49"/><use href="#dx" x="329.11" y="98.85"/><use href="#dx" x="336.53" y="98.85"/><use href="#dx" x="343.95" y="98.85"/><use href="#dx" x="351.37" y="98.85"/><use href="#dx" x="358.79" y="98.85"/><use href="#dx" x="366.21" y="98.85"/><use href="#db" x="329.11" y="106.31"/><use href="#db" x="336.53" y="106.31"/><use href="#db" x="343.95" y="106.31"/><use href="#db" x="351.37" y="106.31"/><use href="#db" x="358.79" y="106.31"/><use href="#db" x="366.21" y="106.31"/><use href="#db" x="329.11" y="113.76"/><use href="#db" x="336.53" y="113.76"/><use href="#db" x="343.95" y="113.76"/><use href="#db" x="351.37" y="113.76"/><use href="#db" x="358.79" y="113.76"/><use href="#db" x="366.21" y="113.76"/><use href="#db" x="329.11" y="121.21"/><use href="#db" x="336.53" y="121.21"/><use href="#db" x="343.95" y="121.21"/><use href="#db" x="351.37" y="121.21"/><use href="#db" x="358.79" y="121.21"/><use href="#db" x="366.21" y="121.21"/><use href="#db" x="329.11" y="128.67"/><use href="#db" x="336.53" y="128.67"/><use href="#db" x="343.95" y="128.67"/><use href="#db" x="351.37" y="128.67"/><use href="#db" x="358.79" y="128.67"/><use href="#db" x="366.21" y="128.67"/><use href="#dr" x="329.11" y="143.57"/><use href="#dr" x="336.53" y="143.57"/><use href="#dr" x="351.37" y="143.57"/><use href="#dr" x="366.21" y="143.57"/><use href="#dm_b" x="329.11" y="151.03"/><use href="#dm_b" x="336.53" y="151.03"/><use href="#dm_b" x="343.95" y="151.03"/><use href="#dm_b" x="351.37" y="151.03"/><use href="#dm_b" x="358.79" y="151.03"/><use href="#dm_b" x="366.21" y="151.03"/><use href="#dm" x="373.63" y="151.03"/><use href="#dd_b" x="329.11" y="158.48"/><use href="#dd" x="336.53" y="158.48"/><use href="#dd" x="343.95" y="158.48"/><use href="#dd" x="351.37" y="158.48"/><use href="#dd_b" x="358.79" y="158.48"/><use href="#do" x="329.11" y="173.39"/><use href="#do" x="336.53" y="173.39"/><use href="#do" x="343.95" y="173.39"/><use href="#do" x="351.37" y="173.39"/><use href="#do" x="358.79" y="173.39"/><use href="#do" x="366.21" y="173.39"/><use href="#dT" x="329.11" y="180.84"/><use href="#dT" x="336.53" y="180.84"/><use href="#dT" x="343.95" y="180.84"/><use href="#dT" x="351.37" y="180.84"/><use href="#dT" x="358.79" y="180.84"/><use href="#dT" x="366.21" y="180.84"/><use href="#db" x="329.11" y="188.30"/><use href="#db" x="336.53" y="188.30"/><use href="#db" x="343.95" y="188.30"/><use href="#db" x="351.37" y="188.30"/><use href="#db" x="358.79" y="188.30"/><use href="#db" x="366.21" y="188.30"/><use href="#ds" x="329.11" y="195.75"/><use href="#ds" x="336.53" y="195.75"/><use href="#ds" x="343.95" y="195.75"/><use href="#db_s" x="351.37" y="195.75"/><use href="#ds" x="358.79" y="195.75"/><use href="#db_s" x="366.21" y="195.75"/><use href="#ds" x="373.63" y="195.75"/><use href="#dr" x="329.11" y="210.66"/><use href="#dr" x="336.53" y="210.66"/><use href="#dr" x="351.37" y="210.66"/><use href="#dr" x="358.79" y="210.66"/><use href="#dr" x="366.21" y="210.66"/><use href="#dy" x="329.11" y="218.12"/><use href="#dy" x="336.53" y="218.12"/><use href="#dy" x="351.37" y="218.12"/><use href="#dy" x="358.79" y="218.12"/><use href="#dy" x="329.11" y="225.57"/><use href="#dy" x="336.53" y="225.57"/><use href="#dy" x="351.37" y="225.57"/><use href="#dy" x="358.79" y="225.57"/><use href="#dy" x="366.21" y="225.57"/><use href="#dM_R" x="329.11" y="233.02"/><use href="#dM_R" x="336.53" y="233.02"/><use href="#dR" x="343.95" y="233.02"/><use href="#dM_R" x="351.37" y="233.02"/><use href="#dM_R" x="358.79" y="233.02"/><use href="#dM_R" x="366.21" y="233.02"/><use href="#dR" x="373.63" y="233.02"/><use href="#dy" x="329.11" y="240.48"/><use href="#dy" x="336.53" y="240.48"/><use href="#dy" x="351.37" y="240.48"/><use href="#dy" x="358.79" y="240.48"/><use href="#dy" x="366.21" y="240.48"/><use href="#db_y" x="329.11" y="247.93"/><use href="#db_y" x="336.53" y="247.93"/><use href="#db_y" x="343.95" y="247.93"/><use href="#db_y" x="351.37" y="247.93"/><use href="#dy" x="358.79" y="247.93"/><use href="#db_y" x="366.21" y="247.93"/><use href="#dy" x="366.21" y="255.38"/><use href="#dr_b" x="329.11" y="262.84"/><use href="#dr_b" x="336.53" y="262.84"/><use href="#db" x="343.95" y="262.84"/><use href="#db" x="351.37" y="262.84"/><use href="#db" x="358.79" y="262.84"/><use href="#dr_b" x="366.21" y="262.84"/><use href="#dy" x="329.11" y="270.29"/><use href="#dy" x="336.53" y="270.29"/><use href="#dy" x="351.37" y="270.29"/><use href="#dy" x="358.79" y="270.29"/><use href="#dy" x="366.21" y="270.29"/><use href="#dy" x="329.11" y="277.75"/><use href="#dy" x="336.53" y="277.75"/><use href="#dy" x="351.37" y="277.75"/><use href="#dy" x="358.79" y="277.75"/><use href="#dy" x="366.21" y="277.75"/><use href="#dr" x="329.11" y="285.20"/><use href="#dr" x="366.21" y="285.20"/><use href="#db_r" x="329.11" y="307.56"/><use href="#db_r" x="336.53" y="307.56"/><use href="#db_r" x="343.95" y="307.56"/><use href="#db_r" x="351.37" y="307.56"/><use href="#db_r" x="358.79" y="307.56"/><use href="#db_r" x="366.21" y="307.56"/><use href="#dp" x="329.11" y="315.02"/><use href="#dp" x="336.53" y="315.02"/><use href="#dp" x="343.95" y="315.02"/><use href="#dp" x="351.37" y="315.02"/><use href="#dp" x="358.79" y="315.02"/><use href="#dp" x="366.21" y="315.02"/><use href="#dp" x="373.63" y="315.02"/><use href="#dg_o" x="329.11" y="322.47"/><use href="#dg_o" x="336.53" y="322.47"/><use href="#do" x="343.95" y="322.47"/><use href="#dg_o" x="351.37" y="322.47"/><use href="#dg_o" x="358.79" y="322.47"/><use href="#dg_o" x="366.21" y="322.47"/><use href="#ds" x="329.11" y="329.92"/><use href="#ds" x="343.95" y="329.92"/><use href="#ds" x="351.37" y="329.92"/><use href="#ds" x="358.79" y="329.92"/><use href="#ds" x="366.21" y="329.92"/><use href="#ds" x="373.63" y="329.92"/><use href="#dz" x="329.11" y="337.38"/><use href="#dz" x="336.53" y="337.38"/><use href="#dz" x="343.95" y="337.38"/><use href="#dz" x="351.37" y="337.38"/><use href="#dz" x="358.79" y="337.38"/><use href="#dz" x="366.21" y="337.38"/><use href="#dz" x="373.63" y="337.38"/><use href="#dy_p" x="329.11" y="344.83"/><use href="#dy_p" x="336.53" y="344.83"/><use href="#dp" x="343.95" y="344.83"/><use href="#dy_p" x="351.37" y="344.83"/><use href="#dy_p" x="358.79" y="344.83"/><use href="#dy_p" x="366.21" y="344.83"/><use href="#dy_p" x="373.63" y="344.83"/><use href="#dy" x="336.53" y="359.74"/><use href="#dc" x="329.11" y="367.19"/><use href="#dc" x="336.53" y="367.19"/><use href="#dc" x="343.95" y="367.19"/><use href="#dc" x="351.37" y="367.19"/><use href="#dc" x="358.79" y="367.19"/><use href="#dc" x="366.21" y="367.19"/><use href="#dc" x="373.63" y="367.19"/><use href="#dq" x="329.11" y="382.10"/><use href="#dq" x="336.53" y="382.10"/><use href="#dq" x="343.95" y="382.10"/><use href="#dq" x="351.37" y="382.10"/><use href="#dq" x="358.79" y="382.10"/><use href="#dq" x="366.21" y="382.10"/><use href="#dq" x="373.63" y="382.10"/><use href="#dy" x="329.11" y="389.56"/><use href="#dy" x="336.53" y="389.56"/><use href="#dy" x="351.37" y="389.56"/><use href="#dy" x="358.79" y="389.56"/><use href="#dy" x="366.21" y="389.56"/><use href="#dl_b" x="329.11" y="397.01"/><use href="#dl_b" x="336.53" y="397.01"/><use href="#dl_b" x="343.95" y="397.01"/><use href="#dl_b" x="351.37" y="397.01"/><use href="#dl_b" x="358.79" y="397.01"/><use href="#dl_b" x="366.21" y="397.01"/><use href="#dr_d" x="329.11" y="404.46"/><use href="#dr_d" x="336.53" y="404.46"/><use href="#dr_d" x="343.95" y="404.46"/><use href="#dr_d" x="351.37" y="404.46"/><use href="#dr_d" x="358.79" y="404.46"/><use href="#dr_d" x="366.21" y="404.46"/><use href="#dd" x="373.63" y="404.46"/><use href="#dm" x="329.11" y="419.37"/><use href="#dm" x="336.53" y="419.37"/><use href="#dm" x="343.95" y="419.37"/><use href="#dm" x="351.37" y="419.37"/><use href="#dm" x="358.79" y="419.37"/><use href="#dm" x="366.21" y="419.37"/><use href="#dm" x="373.63" y="419.37"/><use href="#ds_y" x="329.11" y="434.28"/><use href="#ds_y" x="336.53" y="434.28"/><use href="#ds" x="343.95" y="434.28"/><use href="#ds_y" x="351.37" y="434.28"/><use href="#ds_y" x="358.79" y="434.28"/><use href="#ds_y" x="366.21" y="434.28"/><use href="#ds" x="373.63" y="434.28"/><use href="#dy" x="329.11" y="449.19"/><use href="#dy" x="336.53" y="449.19"/><use href="#dy" x="351.37" y="449.19"/><use href="#dy" x="358.79" y="449.19"/><use href="#dy" x="329.11" y="456.64"/><use href="#dy" x="336.53" y="456.64"/><use href="#dy" x="343.95" y="456.64"/><use href="#dy" x="351.37" y="456.64"/><use href="#dy" x="358.79" y="456.64"/><use href="#dy" x="366.21" y="456.64"/><use href="#dy" x="373.63" y="456.64"/><use href="#dy" x="329.11" y="464.10"/><use href="#dy" x="336.53" y="464.10"/><use href="#dy" x="343.95" y="464.10"/><use href="#dy" x="351.37" y="464.10"/><use href="#dy" x="358.79" y="464.10"/><use href="#dy" x="366.21" y="464.10"/><use href="#dn" x="392.33" y="54.13"/><use href="#dn" x="399.75" y="54.13"/><use href="#dn" x="414.59" y="54.13"/><use href="#dm" x="399.75" y="61.58"/><use href="#dm" x="407.17" y="61.58"/><use href="#dm" x="414.59" y="61.58"/><use href="#dM" x="384.91" y="76.49"/><use href="#dM" x="392.33" y="76.49"/><use href="#dM" x="399.75" y="76.49"/><use href="#dy" x="407.17" y="76.49"/><use href="#dy_M" x="414.59" y="76.49"/><use href="#dx" x="384.91" y="98.85"/><use href="#db" x="399.75" y="98.85"/><use href="#dx" x="407.17" y="98.85"/><use href="#dx" x="414.59" y="98.85"/><use href="#db" x="384.91" y="106.31"/><use href="#db" x="399.75" y="106.31"/><use href="#db" x="407.17" y="106.31"/><use href="#db" x="414.59" y="106.31"/><use href="#db" x="384.91" y="113.76"/><use href="#db" x="399.75" y="113.76"/><use href="#db" x="384.91" y="121.21"/><use href="#db" x="399.75" y="121.21"/><use href="#db" x="407.17" y="121.21"/><use href="#db" x="414.59" y="121.21"/><use href="#db" x="384.91" y="128.67"/><use href="#db" x="399.75" y="128.67"/><use href="#db" x="407.17" y="128.67"/><use href="#db" x="414.59" y="128.67"/><use href="#dr" x="384.91" y="143.57"/><use href="#dr" x="407.17" y="143.57"/><use href="#dr" x="414.59" y="143.57"/><use href="#dm_b" x="384.91" y="151.03"/><use href="#dm" x="399.75" y="151.03"/><use href="#dm" x="407.17" y="151.03"/><use href="#dm" x="414.59" y="151.03"/><use href="#dd_b" x="384.91" y="158.48"/><use href="#dd_b" x="407.17" y="158.48"/><use href="#dd" x="414.59" y="158.48"/><use href="#db" x="384.91" y="188.30"/><use href="#db" x="399.75" y="188.30"/><use href="#db" x="407.17" y="188.30"/><use href="#db" x="414.59" y="188.30"/><use href="#ds" x="384.91" y="195.75"/><use href="#ds" x="392.33" y="195.75"/><use href="#db_s" x="399.75" y="195.75"/><use href="#ds" x="407.17" y="195.75"/><use href="#db_s" x="414.59" y="195.75"/><use href="#dr" x="384.91" y="210.66"/><use href="#dr" x="399.75" y="210.66"/><use href="#dr" x="407.17" y="210.66"/><use href="#dr" x="414.59" y="210.66"/><use href="#dR" x="384.91" y="233.02"/><use href="#dR" x="392.33" y="233.02"/><use href="#dM_R" x="399.75" y="233.02"/><use href="#dM_R" x="407.17" y="233.02"/><use href="#dM_R" x="414.59" y="233.02"/><use href="#dy" x="384.91" y="240.48"/><use href="#dy" x="407.17" y="240.48"/><use href="#dy" x="414.59" y="240.48"/><use href="#db" x="384.91" y="247.93"/><use href="#db" x="399.75" y="247.93"/><use href="#db" x="407.17" y="247.93"/><use href="#db_y" x="414.59" y="247.93"/><use href="#db" x="384.91" y="262.84"/><use href="#db" x="399.75" y="262.84"/><use href="#dr_b" x="407.17" y="262.84"/><use href="#dr_b" x="414.59" y="262.84"/><use href="#dy" x="384.91" y="270.29"/><use href="#dy" x="399.75" y="270.29"/><use href="#dy" x="407.17" y="270.29"/><use href="#dy" x="414.59" y="270.29"/><use href="#dy" x="384.91" y="277.75"/><use href="#dy" x="399.75" y="277.75"/><use href="#dy" x="407.17" y="277.75"/><use href="#dy" x="414.59" y="277.75"/><use href="#dr" x="414.59" y="285.20"/><use href="#db_r" x="384.91" y="307.56"/><use href="#db_r" x="399.75" y="307.56"/><use href="#db_r" x="407.17" y="307.56"/><use href="#db_r" x="414.59" y="307.56"/><use href="#dp" x="384.91" y="315.02"/><use href="#dp" x="392.33" y="315.02"/><use href="#dp" x="399.75" y="315.02"/><use href="#dp" x="407.17" y="315.02"/><use href="#dp" x="414.59" y="315.02"/><use href="#dg" x="384.91" y="322.47"/><use href="#dg" x="407.17" y="322.47"/><use href="#dg" x="414.59" y="322.47"/><use href="#ds" x="384.91" y="329.92"/><use href="#ds" x="392.33" y="329.92"/><use href="#ds" x="399.75" y="329.92"/><use href="#ds" x="407.17" y="329.92"/><use href="#dz" x="384.91" y="337.38"/><use href="#dz" x="392.33" y="337.38"/><use href="#dz" x="399.75" y="337.38"/><use href="#dz" x="407.17" y="337.38"/><use href="#dz" x="414.59" y="337.38"/><use href="#dy_p" x="384.91" y="344.83"/><use href="#dp" x="392.33" y="344.83"/><use href="#dp" x="399.75" y="344.83"/><use href="#dy_p" x="407.17" y="344.83"/><use href="#dy_p" x="414.59" y="344.83"/><use href="#dc" x="384.91" y="367.19"/><use href="#dc" x="392.33" y="367.19"/><use href="#dc" x="399.75" y="367.19"/><use href="#dc" x="407.17" y="367.19"/><use href="#dc" x="414.59" y="367.19"/><use href="#dq" x="384.91" y="382.10"/><use href="#dq" x="392.33" y="382.10"/><use href="#dq" x="399.75" y="382.10"/><use href="#dq" x="407.17" y="382.10"/><use href="#dq" x="414.59" y="382.10"/><use href="#dl_b" x="384.91" y="397.01"/><use href="#db" x="399.75" y="397.01"/><use href="#dl_b" x="407.17" y="397.01"/><use href="#dl_b" x="414.59" y="397.01"/><use href="#du" x="384.91" y="404.46"/><use href="#dy" x="392.33" y="404.46"/><use href="#dd" x="399.75" y="404.46"/><use href="#dr" x="407.17" y="404.46"/><use href="#du" x="414.59" y="404.46"/><use href="#dy" x="407.17" y="411.92"/><use href="#dy" x="414.59" y="411.92"/><use href="#dy_m" x="384.91" y="419.37"/><use href="#dm" x="392.33" y="419.37"/><use href="#dy_m" x="399.75" y="419.37"/><use href="#dm" x="407.17" y="419.37"/><use href="#dy_m" x="414.59" y="419.37"/><use href="#dy" x="392.33" y="426.83"/><use href="#dy" x="407.17" y="426.83"/><use href="#dy" x="414.59" y="426.83"/><use href="#ds" x="384.91" y="434.28"/><use href="#ds" x="392.33" y="434.28"/><use href="#ds" x="399.75" y="434.28"/><use href="#ds" x="407.17" y="434.28"/><use href="#ds" x="414.59" y="434.28"/><use href="#dy" x="384.91" y="456.64"/><use href="#dy" x="407.17" y="456.64"/><use href="#dy" x="414.59" y="456.64"/><use href="#dy" x="384.91" y="464.10"/><use href="#dy" x="407.17" y="464.10"/><use href="#dy" x="414.59" y="464.10"/><use href="#dn" x="432.83" y="54.13"/><use href="#dn" x="440.25" y="54.13"/><use href="#dn" x="455.09" y="54.13"/><use href="#dn" x="462.51" y="54.13"/><use href="#dn" x="469.93" y="54.13"/><use href="#dn" x="477.35" y="54.13"/><use href="#dM" x="425.41" y="76.49"/><use href="#dM" x="432.83" y="76.49"/><use href="#dy_M" x="440.25" y="76.49"/><use href="#dM" x="447.67" y="76.49"/><use href="#dy_M" x="455.09" y="76.49"/><use href="#dM" x="462.51" y="76.49"/><use href="#dM" x="469.93" y="76.49"/><use href="#dM" x="477.35" y="76.49"/><use href="#dM" x="484.77" y="76.49"/><use href="#dx" x="440.25" y="98.85"/><use href="#db" x="440.25" y="106.31"/><use href="#db" x="440.25" y="113.76"/><use href="#db" x="440.25" y="121.21"/><use href="#db" x="440.25" y="128.67"/><use href="#dm" x="432.83" y="151.03"/><use href="#dm_b" x="440.25" y="151.03"/><use href="#dm" x="447.67" y="151.03"/><use href="#dm" x="455.09" y="151.03"/><use href="#dm" x="462.51" y="151.03"/><use href="#dm" x="469.93" y="151.03"/><use href="#dm" x="477.35" y="151.03"/><use href="#dm" x="484.77" y="151.03"/><use href="#dd" x="440.25" y="158.48"/><use href="#do" x="440.25" y="173.39"/><use href="#dT" x="440.25" y="180.84"/><use href="#db" x="440.25" y="188.30"/><use href="#ds" x="440.25" y="195.75"/><use href="#ds" x="447.67" y="195.75"/><use href="#ds" x="455.09" y="195.75"/><use href="#ds" x="462.51" y="195.75"/><use href="#ds" x="469.93" y="195.75"/><use href="#ds" x="477.35" y="195.75"/><use href="#ds" x="484.77" y="195.75"/><use href="#dr" x="477.35" y="210.66"/><use href="#dR" x="425.41" y="233.02"/><use href="#dR" x="432.83" y="233.02"/><use href="#dM_R" x="440.25" y="233.02"/><use href="#dR" x="447.67" y="233.02"/><use href="#dR" x="455.09" y="233.02"/><use href="#dR" x="462.51" y="233.02"/><use href="#dR" x="469.93" y="233.02"/><use href="#dR" x="477.35" y="233.02"/><use href="#dR" x="484.77" y="233.02"/><use href="#dy" x="432.83" y="247.93"/><use href="#db_y" x="440.25" y="247.93"/><use href="#dy" x="447.67" y="247.93"/><use href="#dy" x="462.51" y="247.93"/><use href="#dy" x="477.35" y="247.93"/><use href="#db" x="440.25" y="262.84"/><use href="#dy" x="432.83" y="270.29"/><use href="#dy" x="432.83" y="277.75"/><use href="#db_r" x="440.25" y="307.56"/><use href="#dr" x="462.51" y="307.56"/><use href="#dr" x="477.35" y="307.56"/><use href="#dp" x="425.41" y="315.02"/><use href="#dp" x="432.83" y="315.02"/><use href="#dp" x="440.25" y="315.02"/><use href="#dp" x="447.67" y="315.02"/><use href="#dp" x="455.09" y="315.02"/><use href="#dp" x="462.51" y="315.02"/><use href="#dp" x="469.93" y="315.02"/><use href="#dp" x="477.35" y="315.02"/><use href="#dp" x="484.77" y="315.02"/><use href="#do" x="440.25" y="322.47"/><use href="#ds" x="425.41" y="329.92"/><use href="#ds" x="432.83" y="329.92"/><use href="#ds" x="440.25" y="329.92"/><use href="#ds" x="447.67" y="329.92"/><use href="#ds" x="455.09" y="329.92"/><use href="#ds" x="462.51" y="329.92"/><use href="#ds" x="469.93" y="329.92"/><use href="#ds" x="477.35" y="329.92"/><use href="#dz" x="432.83" y="337.38"/><use href="#dz" x="440.25" y="337.38"/><use href="#dz" x="447.67" y="337.38"/><use href="#dz" x="455.09" y="337.38"/><use href="#dz" x="462.51" y="337.38"/><use href="#dz" x="469.93" y="337.38"/><use href="#dz" x="477.35" y="337.38"/><use href="#dz" x="484.77" y="337.38"/><use href="#dp" x="432.83" y="344.83"/><use href="#dp" x="440.25" y="344.83"/><use href="#dp" x="447.67" y="344.83"/><use href="#dp" x="455.09" y="344.83"/><use href="#dp" x="462.51" y="344.83"/><use href="#dp" x="469.93" y="344.83"/><use href="#dp" x="477.35" y="344.83"/><use href="#dp" x="484.77" y="344.83"/><use href="#dc" x="440.25" y="367.19"/><use href="#dc" x="447.67" y="367.19"/><use href="#dq" x="432.83" y="382.10"/><use href="#dq" x="440.25" y="382.10"/><use href="#dq" x="447.67" y="382.10"/><use href="#dq" x="455.09" y="382.10"/><use href="#dq" x="462.51" y="382.10"/><use href="#dq" x="469.93" y="382.10"/><use href="#dq" x="477.35" y="382.10"/><use href="#dq" x="484.77" y="382.10"/><use href="#dl_b" x="440.25" y="397.01"/><use href="#dr_d" x="440.25" y="404.46"/><use href="#ds" x="432.83" y="434.28"/><use href="#ds" x="440.25" y="434.28"/><use href="#ds" x="447.67" y="434.28"/><use href="#ds" x="462.51" y="434.28"/><use href="#ds" x="469.93" y="434.28"/><use href="#ds" x="477.35" y="434.28"/><use href="#ds" x="484.77" y="434.28"/><use href="#dy" x="432.83" y="456.64"/><use href="#dy" x="440.25" y="456.64"/><use href="#dy" x="447.67" y="456.64"/><use href="#dy" x="462.51" y="456.64"/><use href="#dy" x="469.93" y="456.64"/><use href="#dy" x="477.35" y="456.64"/><use href="#dy" x="484.77" y="456.64"/><use href="#dy" x="440.25" y="464.10"/><use href="#dn" x="510.75" y="54.13"/><use href="#dn" x="518.17" y="54.13"/><use href="#dn" x="525.59" y="54.13"/><use href="#dn" x="547.85" y="54.13"/><use href="#dm" x="495.91" y="61.58"/><use href="#dm" x="503.33" y="61.58"/><use href="#dm" x="510.75" y="61.58"/><use href="#dm" x="518.17" y="61.58"/><use href="#dm" x="525.59" y="61.58"/><use href="#dm" x="533.01" y="61.58"/><use href="#dm" x="540.43" y="61.58"/><use href="#dm" x="547.85" y="61.58"/><use href="#dM" x="525.59" y="76.49"/><use href="#dM" x="533.01" y="76.49"/><use href="#dM" x="540.43" y="76.49"/><use href="#dy_M" x="547.85" y="76.49"/><use href="#dl" x="495.91" y="98.85"/><use href="#dl" x="503.33" y="98.85"/><use href="#dl" x="510.75" y="98.85"/><use href="#dl" x="518.17" y="98.85"/><use href="#dc_l" x="525.59" y="98.85"/><use href="#dl" x="533.01" y="98.85"/><use href="#dl" x="540.43" y="98.85"/><use href="#dl_b" x="547.85" y="98.85"/><use href="#db" x="547.85" y="106.31"/><use href="#db" x="547.85" y="121.21"/><use href="#db" x="547.85" y="128.67"/><use href="#dr" x="510.75" y="143.57"/><use href="#dr" x="525.59" y="143.57"/><use href="#dr" x="533.01" y="143.57"/><use href="#dm" x="495.91" y="151.03"/><use href="#dm" x="503.33" y="151.03"/><use href="#dm" x="518.17" y="151.03"/><use href="#dm" x="525.59" y="151.03"/><use href="#dm" x="533.01" y="151.03"/><use href="#dm" x="540.43" y="151.03"/><use href="#dd" x="540.43" y="158.48"/><use href="#dT" x="547.85" y="180.84"/><use href="#db" x="547.85" y="188.30"/><use href="#ds" x="503.33" y="195.75"/><use href="#ds" x="510.75" y="195.75"/><use href="#ds" x="518.17" y="195.75"/><use href="#ds" x="525.59" y="195.75"/><use href="#ds" x="540.43" y="195.75"/><use href="#db" x="547.85" y="195.75"/><use href="#dr" x="495.91" y="210.66"/><use href="#dr" x="503.33" y="210.66"/><use href="#dr" x="510.75" y="210.66"/><use href="#dr" x="518.17" y="210.66"/><use href="#dr" x="525.59" y="210.66"/><use href="#dr" x="540.43" y="210.66"/><use href="#dr" x="547.85" y="210.66"/><use href="#dy" x="495.91" y="218.12"/><use href="#dy" x="503.33" y="218.12"/><use href="#dy" x="510.75" y="218.12"/><use href="#dy" x="518.17" y="218.12"/><use href="#dy" x="525.59" y="218.12"/><use href="#dy" x="540.43" y="218.12"/><use href="#dy" x="547.85" y="218.12"/><use href="#dy" x="495.91" y="225.57"/><use href="#dy" x="503.33" y="225.57"/><use href="#dy" x="510.75" y="225.57"/><use href="#dy" x="518.17" y="225.57"/><use href="#dy" x="525.59" y="225.57"/><use href="#dy" x="540.43" y="225.57"/><use href="#dy" x="547.85" y="225.57"/><use href="#dR" x="495.91" y="233.02"/><use href="#dR" x="503.33" y="233.02"/><use href="#dR" x="510.75" y="233.02"/><use href="#dR" x="518.17" y="233.02"/><use href="#dR" x="525.59" y="233.02"/><use href="#dR" x="533.01" y="233.02"/><use href="#dR" x="540.43" y="233.02"/><use href="#dR" x="547.85" y="233.02"/><use href="#dy" x="510.75" y="240.48"/><use href="#dy" x="525.59" y="240.48"/><use href="#dy" x="547.85" y="240.48"/><use href="#dy" x="510.75" y="247.93"/><use href="#dy" x="518.17" y="247.93"/><use href="#dy" x="525.59" y="247.93"/><use href="#db_y" x="547.85" y="247.93"/><use href="#dy" x="503.33" y="255.38"/><use href="#dy" x="510.75" y="255.38"/><use href="#dy" x="525.59" y="255.38"/><use href="#dy" x="547.85" y="255.38"/><use href="#dr" x="495.91" y="262.84"/><use href="#dr" x="503.33" y="262.84"/><use href="#dr" x="510.75" y="262.84"/><use href="#dr" x="518.17" y="262.84"/><use href="#dr" x="525.59" y="262.84"/><use href="#dr" x="533.01" y="262.84"/><use href="#dr" x="540.43" y="262.84"/><use href="#db_r" x="547.85" y="262.84"/><use href="#dy" x="510.75" y="270.29"/><use href="#dy" x="518.17" y="270.29"/><use href="#dy" x="547.85" y="270.29"/><use href="#dy" x="510.75" y="277.75"/><use href="#dy" x="525.59" y="277.75"/><use href="#dy" x="547.85" y="277.75"/><use href="#dr" x="495.91" y="285.20"/><use href="#dr" x="503.33" y="285.20"/><use href="#dr" x="510.75" y="285.20"/><use href="#dr" x="518.17" y="285.20"/><use href="#dr" x="525.59" y="285.20"/><use href="#dr" x="540.43" y="285.20"/><use href="#dr" x="547.85" y="285.20"/><use href="#dr" x="495.91" y="307.56"/><use href="#dr" x="503.33" y="307.56"/><use href="#dr" x="510.75" y="307.56"/><use href="#dr" x="518.17" y="307.56"/><use href="#dr" x="525.59" y="307.56"/><use href="#dr" x="533.01" y="307.56"/><use href="#db_r" x="547.85" y="307.56"/><use href="#dp" x="495.91" y="315.02"/><use href="#dp" x="503.33" y="315.02"/><use href="#dp" x="510.75" y="315.02"/><use href="#dp" x="518.17" y="315.02"/><use href="#dp" x="525.59" y="315.02"/><use href="#dp" x="533.01" y="315.02"/><use href="#dp" x="540.43" y="315.02"/><use href="#dp" x="547.85" y="315.02"/><use href="#dg" x="525.59" y="322.47"/><use href="#do" x="547.85" y="322.47"/><use href="#ds" x="495.91" y="329.92"/><use href="#ds" x="503.33" y="329.92"/><use href="#ds" x="510.75" y="329.92"/><use href="#ds" x="518.17" y="329.92"/><use href="#ds" x="525.59" y="329.92"/><use href="#ds" x="533.01" y="329.92"/><use href="#ds" x="540.43" y="329.92"/><use href="#ds" x="547.85" y="329.92"/><use href="#dz" x="495.91" y="337.38"/><use href="#dz" x="503.33" y="337.38"/><use href="#dz" x="510.75" y="337.38"/><use href="#dz" x="518.17" y="337.38"/><use href="#dz" x="525.59" y="337.38"/><use href="#dz" x="533.01" y="337.38"/><use href="#dz" x="540.43" y="337.38"/><use href="#dz" x="547.85" y="337.38"/><use href="#dp" x="503.33" y="344.83"/><use href="#dp" x="510.75" y="344.83"/><use href="#dp" x="518.17" y="344.83"/><use href="#dp" x="525.59" y="344.83"/><use href="#dp" x="533.01" y="344.83"/><use href="#dp" x="540.43" y="344.83"/><use href="#dr" x="547.85" y="352.29"/><use href="#dy" x="525.59" y="359.74"/><use href="#dy" x="540.43" y="359.74"/><use href="#dc" x="495.91" y="367.19"/><use href="#dc" x="510.75" y="367.19"/><use href="#dc" x="518.17" y="367.19"/><use href="#dc" x="533.01" y="367.19"/><use href="#dc" x="540.43" y="367.19"/><use href="#dc" x="547.85" y="367.19"/><use href="#dq" x="495.91" y="382.10"/><use href="#dq" x="503.33" y="382.10"/><use href="#dq" x="510.75" y="382.10"/><use href="#dq" x="518.17" y="382.10"/><use href="#dq" x="525.59" y="382.10"/><use href="#dq" x="533.01" y="382.10"/><use href="#dq" x="540.43" y="382.10"/><use href="#dq" x="547.85" y="382.10"/><use href="#dy" x="503.33" y="389.56"/><use href="#dy" x="510.75" y="389.56"/><use href="#dy" x="518.17" y="389.56"/><use href="#dy" x="525.59" y="389.56"/><use href="#dy" x="540.43" y="389.56"/><use href="#dy" x="547.85" y="389.56"/><use href="#dl" x="495.91" y="397.01"/><use href="#dl" x="503.33" y="397.01"/><use href="#dl" x="510.75" y="397.01"/><use href="#dl" x="518.17" y="397.01"/><use href="#dl" x="525.59" y="397.01"/><use href="#dl" x="533.01" y="397.01"/><use href="#dl" x="540.43" y="397.01"/><use href="#dl_b" x="547.85" y="397.01"/><use href="#dr" x="495.91" y="404.46"/><use href="#dr" x="503.33" y="404.46"/><use href="#dr" x="510.75" y="404.46"/><use href="#dr" x="518.17" y="404.46"/><use href="#dr" x="525.59" y="404.46"/><use href="#dy" x="533.01" y="404.46"/><use href="#dd" x="540.43" y="404.46"/><use href="#du" x="547.85" y="404.46"/><use href="#dm" x="495.91" y="419.37"/><use href="#dm" x="503.33" y="419.37"/><use href="#dm" x="510.75" y="419.37"/><use href="#dm" x="518.17" y="419.37"/><use href="#dm" x="525.59" y="419.37"/><use href="#dm" x="540.43" y="419.37"/><use href="#ds_y" x="510.75" y="434.28"/><use href="#ds_y" x="518.17" y="434.28"/><use href="#dy" x="525.59" y="434.28"/><use href="#ds" x="533.01" y="434.28"/><use href="#ds_y" x="540.43" y="434.28"/><use href="#ds_y" x="547.85" y="434.28"/><use href="#dy" x="510.75" y="449.19"/><use href="#dy" x="495.91" y="456.64"/><use href="#dy" x="503.33" y="456.64"/><use href="#dy" x="510.75" y="456.64"/><use href="#dy" x="518.17" y="456.64"/><use href="#dy" x="525.59" y="456.64"/><use href="#dy" x="540.43" y="456.64"/><use href="#dy" x="547.85" y="456.64"/><use href="#dy" x="495.91" y="464.10"/><use href="#dy" x="503.33" y="464.10"/><use href="#dy" x="510.75" y="464.10"/><use href="#dy" x="518.17" y="464.10"/><use href="#dy" x="525.59" y="464.10"/><use href="#dy" x="540.43" y="464.10"/><use href="#dy" x="547.85" y="464.10"/><use href="#dn" x="558.61" y="54.13"/><use href="#dn" x="573.45" y="54.13"/><use href="#dn" x="580.87" y="54.13"/><use href="#dn" x="595.71" y="54.13"/><use href="#dn" x="603.13" y="54.13"/><use href="#dM" x="566.03" y="76.49"/><use href="#dM" x="588.29" y="76.49"/><use href="#dM" x="595.71" y="76.49"/><use href="#dm" x="558.61" y="151.03"/><use href="#dm" x="595.71" y="151.03"/><use href="#dm" x="603.13" y="151.03"/><use href="#dd" x="603.13" y="158.48"/><use href="#ds" x="558.61" y="195.75"/><use href="#ds" x="566.03" y="195.75"/><use href="#ds" x="573.45" y="195.75"/><use href="#ds" x="580.87" y="195.75"/><use href="#ds" x="588.29" y="195.75"/><use href="#ds" x="595.71" y="195.75"/><use href="#ds" x="603.13" y="195.75"/><use href="#dR" x="558.61" y="233.02"/><use href="#dR" x="566.03" y="233.02"/><use href="#dR" x="573.45" y="233.02"/><use href="#dR" x="580.87" y="233.02"/><use href="#dR" x="588.29" y="233.02"/><use href="#dR" x="595.71" y="233.02"/><use href="#dR" x="603.13" y="233.02"/><use href="#dr" x="603.13" y="285.20"/><use href="#dr" x="558.61" y="307.56"/><use href="#dr" x="566.03" y="307.56"/><use href="#dr" x="573.45" y="307.56"/><use href="#dr" x="580.87" y="307.56"/><use href="#dr" x="588.29" y="307.56"/><use href="#dr" x="595.71" y="307.56"/><use href="#dr" x="603.13" y="307.56"/><use href="#dp" x="558.61" y="315.02"/><use href="#dp" x="566.03" y="315.02"/><use href="#dp" x="573.45" y="315.02"/><use href="#dp" x="580.87" y="315.02"/><use href="#dp" x="588.29" y="315.02"/><use href="#dp" x="595.71" y="315.02"/><use href="#dp" x="603.13" y="315.02"/><use href="#ds" x="558.61" y="329.92"/><use href="#ds" x="566.03" y="329.92"/><use href="#ds" x="573.45" y="329.92"/><use href="#ds" x="580.87" y="329.92"/><use href="#ds" x="588.29" y="329.92"/><use href="#ds" x="595.71" y="329.92"/><use href="#dz" x="558.61" y="337.38"/><use href="#dz" x="566.03" y="337.38"/><use href="#dz" x="573.45" y="337.38"/><use href="#dz" x="580.87" y="337.38"/><use href="#dz" x="588.29" y="337.38"/><use href="#dz" x="595.71" y="337.38"/><use href="#dz" x="603.13" y="337.38"/><use href="#dc" x="558.61" y="367.19"/><use href="#dc" x="566.03" y="367.19"/><use href="#dc" x="595.71" y="367.19"/><use href="#dq" x="558.61" y="382.10"/><use href="#dq" x="566.03" y="382.10"/><use href="#dq" x="573.45" y="382.10"/><use href="#dq" x="580.87" y="382.10"/><use href="#dq" x="588.29" y="382.10"/><use href="#dq" x="595.71" y="382.10"/><use href="#dq" x="603.13" y="382.10"/><use href="#dl" x="558.61" y="397.01"/><use href="#dl" x="573.45" y="397.01"/><use href="#dr" x="558.61" y="404.46"/><use href="#dr" x="566.03" y="404.46"/><use href="#dy" x="573.45" y="404.46"/><use href="#dr" x="580.87" y="404.46"/><use href="#dy" x="588.29" y="404.46"/><use href="#dy" x="595.71" y="404.46"/><use href="#dy" x="603.13" y="404.46"/><use href="#dy" x="566.03" y="411.92"/><use href="#dy" x="580.87" y="411.92"/><use href="#dy" x="588.29" y="411.92"/><use href="#dy" x="595.71" y="411.92"/><use href="#dy" x="603.13" y="411.92"/><use href="#dm" x="558.61" y="419.37"/><use href="#dm" x="566.03" y="419.37"/><use href="#dm" x="573.45" y="419.37"/><use href="#dy_m" x="580.87" y="419.37"/><use href="#dm" x="588.29" y="419.37"/><use href="#dy_m" x="595.71" y="419.37"/><use href="#dm" x="603.13" y="419.37"/><use href="#dy" x="588.29" y="426.83"/><use href="#dy" x="595.71" y="426.83"/><use href="#ds" x="558.61" y="434.28"/><use href="#ds" x="566.03" y="434.28"/><use href="#ds" x="573.45" y="434.28"/><use href="#ds" x="580.87" y="434.28"/><use href="#ds" x="588.29" y="434.28"/><use href="#ds" x="595.71" y="434.28"/><use href="#ds" x="603.13" y="434.28"/><use href="#dy" x="595.71" y="456.64"/><use href="#dy" x="603.13" y="456.64"/><use href="#dn" x="614.21" y="54.13"/><use href="#dn" x="629.05" y="54.13"/><use href="#dn" x="636.47" y="54.13"/><use href="#dn" x="651.31" y="54.13"/><use href="#dn" x="658.73" y="54.13"/><use href="#dn" x="666.15" y="54.13"/><use href="#dM" x="614.21" y="76.49"/><use href="#dM" x="629.05" y="76.49"/><use href="#dM" x="636.47" y="76.49"/><use href="#dM" x="643.89" y="76.49"/><use href="#dM" x="651.31" y="76.49"/><use href="#dM" x="658.73" y="76.49"/><use href="#dM" x="666.15" y="76.49"/><use href="#dM" x="673.57" y="76.49"/><use href="#dm" x="614.21" y="151.03"/><use href="#dm" x="621.63" y="151.03"/><use href="#dm" x="629.05" y="151.03"/><use href="#dm" x="636.47" y="151.03"/><use href="#dm" x="643.89" y="151.03"/><use href="#dm" x="651.31" y="151.03"/><use href="#dm" x="658.73" y="151.03"/><use href="#dm" x="666.15" y="151.03"/><use href="#dm" x="673.57" y="151.03"/><use href="#do" x="673.57" y="173.39"/><use href="#do" x="680.99" y="173.39"/><use href="#dT" x="673.57" y="180.84"/><use href="#ds" x="614.21" y="195.75"/><use href="#ds" x="621.63" y="195.75"/><use href="#ds" x="629.05" y="195.75"/><use href="#ds" x="636.47" y="195.75"/><use href="#ds" x="643.89" y="195.75"/><use href="#ds" x="651.31" y="195.75"/><use href="#ds" x="658.73" y="195.75"/><use href="#ds" x="666.15" y="195.75"/><use href="#ds" x="673.57" y="195.75"/><use href="#ds" x="680.99" y="195.75"/><use href="#dR" x="614.21" y="233.02"/><use href="#dR" x="629.05" y="233.02"/><use href="#dR" x="636.47" y="233.02"/><use href="#dR" x="643.89" y="233.02"/><use href="#dR" x="651.31" y="233.02"/><use href="#dR" x="658.73" y="233.02"/><use href="#dR" x="666.15" y="233.02"/><use href="#dR" x="673.57" y="233.02"/><use href="#dR" x="680.99" y="233.02"/><use href="#dy" x="643.89" y="247.93"/><use href="#dr" x="673.57" y="262.84"/><use href="#dr" x="614.21" y="307.56"/><use href="#dr" x="629.05" y="307.56"/><use href="#dr" x="636.47" y="307.56"/><use href="#dr" x="651.31" y="307.56"/><use href="#dr" x="658.73" y="307.56"/><use href="#dr" x="680.99" y="307.56"/><use href="#dp" x="614.21" y="315.02"/><use href="#dp" x="621.63" y="315.02"/><use href="#dp" x="629.05" y="315.02"/><use href="#dp" x="636.47" y="315.02"/><use href="#dp" x="643.89" y="315.02"/><use href="#dp" x="651.31" y="315.02"/><use href="#dp" x="658.73" y="315.02"/><use href="#dp" x="666.15" y="315.02"/><use href="#dp" x="673.57" y="315.02"/><use href="#do" x="673.57" y="322.47"/><use href="#ds" x="614.21" y="329.92"/><use href="#ds" x="621.63" y="329.92"/><use href="#ds" x="629.05" y="329.92"/><use href="#ds" x="636.47" y="329.92"/><use href="#ds" x="643.89" y="329.92"/><use href="#ds" x="680.99" y="329.92"/><use href="#dz" x="614.21" y="337.38"/><use href="#dz" x="621.63" y="337.38"/><use href="#dz" x="629.05" y="337.38"/><use href="#dz" x="636.47" y="337.38"/><use href="#dz" x="643.89" y="337.38"/><use href="#dz" x="651.31" y="337.38"/><use href="#dz" x="658.73" y="337.38"/><use href="#dz" x="666.15" y="337.38"/><use href="#dz" x="673.57" y="337.38"/><use href="#dp" x="614.21" y="344.83"/><use href="#dp" x="621.63" y="344.83"/><use href="#dp" x="629.05" y="344.83"/><use href="#dp" x="636.47" y="344.83"/><use href="#dp" x="643.89" y="344.83"/><use href="#dp" x="651.31" y="344.83"/><use href="#dp" x="658.73" y="344.83"/><use href="#dp" x="666.15" y="344.83"/><use href="#dp" x="673.57" y="344.83"/><use href="#dc" x="614.21" y="367.19"/><use href="#dc" x="621.63" y="367.19"/><use href="#dc" x="629.05" y="367.19"/><use href="#dc" x="636.47" y="367.19"/><use href="#dc" x="643.89" y="367.19"/><use href="#dc" x="651.31" y="367.19"/><use href="#dc" x="666.15" y="367.19"/><use href="#dc" x="673.57" y="367.19"/><use href="#dq" x="614.21" y="382.10"/><use href="#dq" x="621.63" y="382.10"/><use href="#dq" x="629.05" y="382.10"/><use href="#dq" x="636.47" y="382.10"/><use href="#dq" x="643.89" y="382.10"/><use href="#dg" x="651.31" y="382.10"/><use href="#dq" x="658.73" y="382.10"/><use href="#dq" x="666.15" y="382.10"/><use href="#dq" x="673.57" y="382.10"/><use href="#dy" x="673.57" y="389.56"/><use href="#dr" x="643.89" y="404.46"/><use href="#dr" x="651.31" y="404.46"/><use href="#dr" x="658.73" y="404.46"/><use href="#dr" x="666.15" y="404.46"/><use href="#dm" x="614.21" y="411.92"/><use href="#dm" x="614.21" y="419.37"/><use href="#dm" x="621.63" y="419.37"/><use href="#ds_y" x="636.47" y="434.28"/><use href="#ds" x="643.89" y="434.28"/><use href="#ds" x="651.31" y="434.28"/><use href="#ds" x="658.73" y="434.28"/><use href="#ds" x="666.15" y="434.28"/><use href="#dy" x="673.57" y="434.28"/><use href="#ds_y" x="680.99" y="434.28"/><use href="#dy" x="643.89" y="456.64"/><use href="#dy" x="651.31" y="456.64"/><use href="#dy" x="666.15" y="456.64"/>
<polygon points="67.81,470.45 68.52,473.69 71.59,474.95 68.72,476.62 68.47,479.94 66.00,477.73 62.77,478.51 64.11,475.47 62.36,472.65 65.66,472.98" fill="#d80808" stroke="#7a0000" stroke-width="0.35" stroke-linejoin="round"/>
<text x="73.40" y="478.30" font-size="6.45" fill="#111" textLength="64.00" lengthAdjust="spacingAndGlyphs"><tspan font-style="italic">Vidania</tspan> genome  &lt; 100Kb</text>
<rect x="146.10" y="473.4" width="6.9" height="6.3" fill="#efb3b3" stroke="#8a8a8a" stroke-width="0.55"/>
<text x="154.70" y="478.30" font-size="6.45" fill="#111" textLength="63.50" lengthAdjust="spacingAndGlyphs">gene encoded by <tspan font-style="italic">Vidania</tspan></text>
<rect x="224.10" y="473.4" width="6.9" height="6.3" fill="#e3f3d6" stroke="#8a8a8a" stroke-width="0.55"/>
<text x="232.70" y="478.30" font-size="6.45" fill="#111" textLength="57.15" lengthAdjust="spacingAndGlyphs">gene encoded by <tspan font-style="italic">Sulcia</tspan></text>
<rect x="305.90" y="473.4" width="6.9" height="6.3" fill="#cfcfcf" stroke="#8a8a8a" stroke-width="0.55"/>
<text x="314.50" y="478.30" font-size="6.45" fill="#111" textLength="72.40" lengthAdjust="spacingAndGlyphs">gene encoded by host-insect</text>
<circle cx="67.0" cy="486.4" r="3.95" fill="#4b8b3b" stroke="#555" stroke-width="0.55"/>
<text x="73.40" y="488.70" font-size="6.45" font-style="italic" fill="#222" textLength="14.58" lengthAdjust="spacingAndGlyphs">Sulcia</text>
<circle cx="94.7" cy="486.4" r="3.95" fill="#ee1c24" stroke="#555" stroke-width="0.55"/>
<text x="101.10" y="488.70" font-size="6.45" font-style="italic" fill="#222" textLength="17.76" lengthAdjust="spacingAndGlyphs">Vidania</text>
<circle cx="124.2" cy="486.4" r="3.95" fill="#ffd200" stroke="#555" stroke-width="0.55"/>
<text x="130.60" y="488.70" font-size="6.45" font-style="italic" fill="#222" textLength="17.56" lengthAdjust="spacingAndGlyphs">Sodalis</text>
<circle cx="154.6" cy="486.4" r="3.95" fill="#ff8a00" stroke="#555" stroke-width="0.55"/>
<text x="161.00" y="488.70" font-size="6.45" font-style="italic" fill="#222" textLength="34.53" lengthAdjust="spacingAndGlyphs">Arsenophonus</text>
<circle cx="202" cy="486.4" r="3.95" fill="#00f0f0" stroke="#555" stroke-width="0.55"/>
<text x="208.40" y="488.70" font-size="6.45" font-style="italic" fill="#222" textLength="18.75" lengthAdjust="spacingAndGlyphs">Serratia</text>
<circle cx="231.6" cy="486.4" r="3.95" fill="#a07a4e" stroke="#555" stroke-width="0.55"/>
<text x="238.00" y="488.70" font-size="6.45" font-style="italic" fill="#222" textLength="25.89" lengthAdjust="spacingAndGlyphs">Purcelliella</text>
<circle cx="269" cy="486.4" r="3.95" fill="#8b0000" stroke="#555" stroke-width="0.55"/>
<text x="275.40" y="488.70" font-size="6.45" font-style="italic" fill="#222" textLength="54.45" lengthAdjust="spacingAndGlyphs">Symbiopectobacterium</text>
<circle cx="339.3" cy="486.4" r="3.95" fill="#66ff1a" stroke="#555" stroke-width="0.55"/>
<text x="345.70" y="488.70" font-size="6.45" font-style="italic" fill="#222" textLength="30.65" lengthAdjust="spacingAndGlyphs">Symbiodolus</text>
<circle cx="382.8" cy="486.4" r="3.95" fill="#3366ff" stroke="#555" stroke-width="0.55"/>
<text x="389.20" y="488.70" font-size="6.45" font-style="italic" fill="#222" textLength="25.00" lengthAdjust="spacingAndGlyphs">Wolbachia</text>
<circle cx="423" cy="486.4" r="3.95" fill="#bf5fd6" stroke="#555" stroke-width="0.55"/>
<text x="429.40" y="488.70" font-size="6.45" font-style="italic" fill="#222" textLength="23.20" lengthAdjust="spacingAndGlyphs">Rickettsia</text>
<circle cx="460.3" cy="486.4" r="3.95" fill="#4b0090" stroke="#555" stroke-width="0.55"/>
<text x="466.70" y="488.70" font-size="6.45" font-style="italic" fill="#222" textLength="28.56" lengthAdjust="spacingAndGlyphs">Rickettsiella</text>
<circle cx="503.2" cy="486.4" r="3.95" fill="#ff00ff" stroke="#555" stroke-width="0.55"/>
<text x="509.60" y="488.70" font-size="6.45" font-style="italic" fill="#222" textLength="21.23" lengthAdjust="spacingAndGlyphs">Tolpelaia</text>
<circle cx="538.2" cy="486.4" r="3.95" fill="#7b68ee" stroke="#555" stroke-width="0.55"/>
<text x="544.60" y="488.70" font-size="6.45" font-style="italic" fill="#222" textLength="18.40" lengthAdjust="spacingAndGlyphs">Tisiphia</text>
<circle cx="570" cy="486.4" r="3.95" fill="#deb887" stroke="#555" stroke-width="0.55"/>
<text x="576.40" y="488.70" font-size="6.45" font-style="italic" fill="#222" textLength="33.63" lengthAdjust="spacingAndGlyphs">Rodanobacter</text>
<circle cx="617.4" cy="486.4" r="3.95" fill="#3b3b8a" stroke="#555" stroke-width="0.55"/>
<text x="623.80" y="488.70" font-size="6.45" font-style="italic" fill="#222" textLength="38.09" lengthAdjust="spacingAndGlyphs">Phyllobacterium</text>
<circle cx="67.0" cy="496.5" r="3.95" fill="#b9c9cf" stroke="#555" stroke-width="0.55"/>
<text x="73.40" y="498.80" font-size="6.45" font-style="italic" fill="#222" textLength="35.72" lengthAdjust="spacingAndGlyphs">Sphingomonas</text>
<circle cx="117.2" cy="496.5" r="3.95" fill="#e6e6fa" stroke="#555" stroke-width="0.55"/>
<text x="123.60" y="498.80" font-size="6.45" font-style="italic" fill="#222" textLength="15.48" lengthAdjust="spacingAndGlyphs">Hafnia</text>
<circle cx="143.6" cy="496.5" r="3.95" fill="#a9a9f5" stroke="#555" stroke-width="0.55"/>
<text x="150.00" y="498.80" font-size="6.45" font-style="italic" fill="#222" textLength="34.23" lengthAdjust="spacingAndGlyphs">Pseudomonas</text>
<circle cx="191.4" cy="496.5" r="3.95" fill="#ffc0cb" stroke="#555" stroke-width="0.55"/>
<text x="197.80" y="498.80" font-size="6.45" font-style="italic" fill="#222" textLength="22.91" lengthAdjust="spacingAndGlyphs">Klebsiella</text>
<circle cx="227.7" cy="496.5" r="3.95" fill="#ff69b4" stroke="#555" stroke-width="0.55"/>
<text x="234.10" y="498.80" font-size="6.45" font-style="italic" fill="#222" textLength="43.15" lengthAdjust="spacingAndGlyphs">Acetobacteraceae</text>
<circle cx="286.6" cy="496.5" r="3.95" fill="#808080" stroke="#555" stroke-width="0.55"/>
<text x="293.00" y="498.80" font-size="6.45" fill="#222" textLength="68.14" lengthAdjust="spacingAndGlyphs">Other Gammaproteobacteria</text>
<circle cx="373.4" cy="496.5" r="3.95" fill="#1a4d3d" stroke="#555" stroke-width="0.55"/>
<text x="379.80" y="498.80" font-size="6.45" font-style="italic" fill="#222" textLength="42.85" lengthAdjust="spacingAndGlyphs">Hypocreales fungi</text>
</svg></body></html>
